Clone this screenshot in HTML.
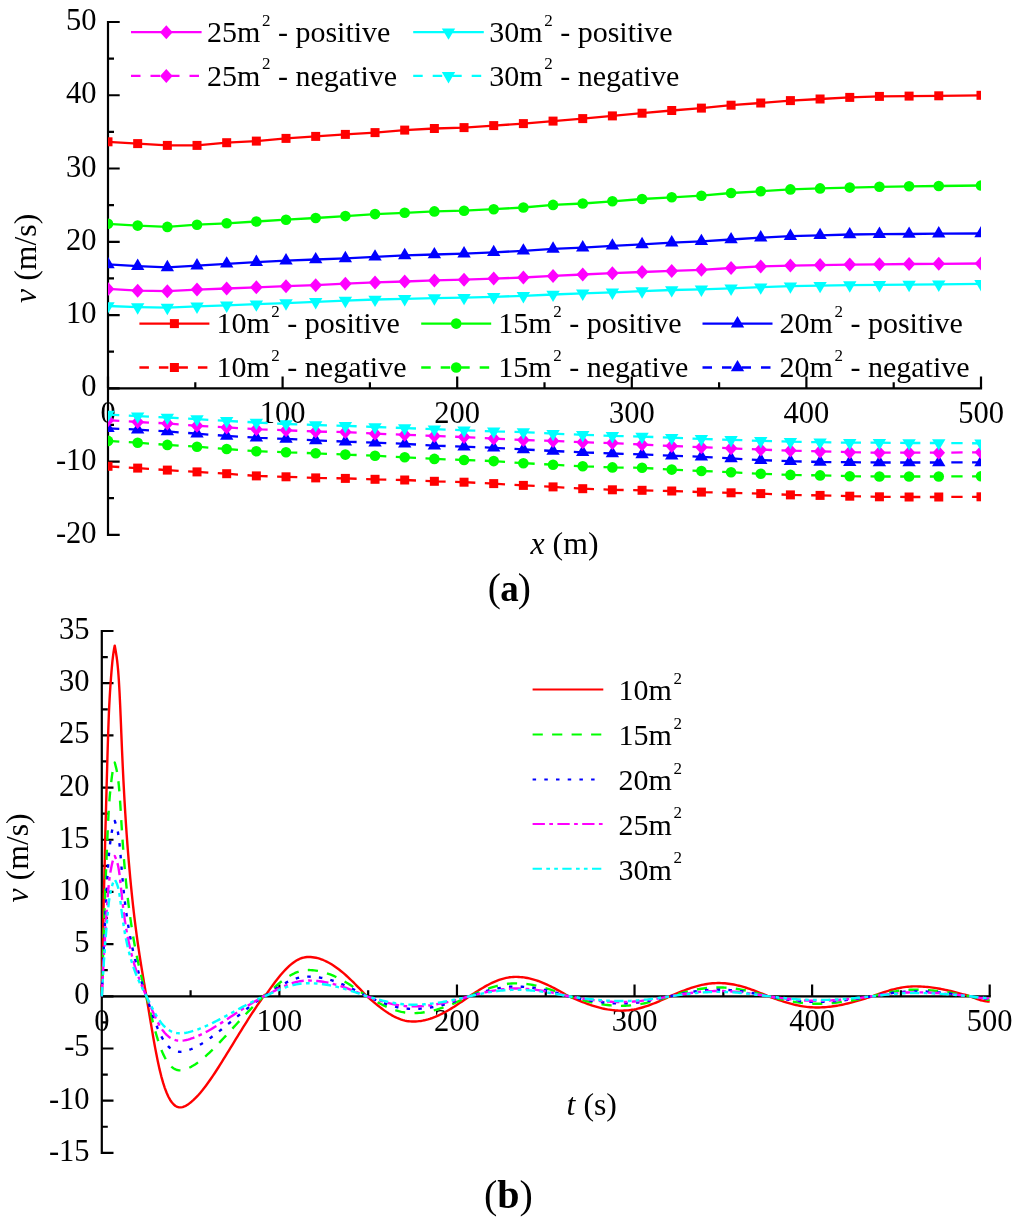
<!DOCTYPE html><html><head><meta charset="utf-8"><title>Velocity charts</title><style>html,body{margin:0;padding:0;background:#fff;width:1024px;height:1222px;overflow:hidden}svg{display:block;will-change:transform}</style></head><body><svg width="1024" height="1222" viewBox="0 0 1024 1222"><rect width="100%" height="100%" fill="#fff"/><defs><clipPath id="ca"><rect x="108" y="0" width="873" height="600"/></clipPath></defs><path d="M108 22V534.82M108 388.3H981" stroke="#000" stroke-width="2.2" fill="none" stroke-linecap="square"/><path d="M108 534.82h11.7M108 498.19h6M108 461.56h11.7M108 424.93h6M108 388.3h11.7M108 351.67h6M108 315.04h11.7M108 278.41h6M108 241.78h11.7M108 205.15h6M108 168.52h11.7M108 131.89h6M108 95.26h11.7M108 58.63h6M108 22h11.7M108 388.3v-11.7M195.3 388.3v-6M282.6 388.3v-11.7M369.9 388.3v-6M457.2 388.3v-11.7M544.5 388.3v-6M631.8 388.3v-11.7M719.1 388.3v-6M806.4 388.3v-11.7M893.7 388.3v-6M981 388.3v-11.7" stroke="#000" stroke-width="2.2" fill="none"/><g font-family='"Liberation Serif", serif' font-size="30.5" fill="#000"><text x="96.6" y="542.82" text-anchor="end">-20</text><text x="96.6" y="469.56" text-anchor="end">-10</text><text x="96.6" y="396.3" text-anchor="end">0</text><text x="96.6" y="323.04" text-anchor="end">10</text><text x="96.6" y="249.78" text-anchor="end">20</text><text x="96.6" y="176.52" text-anchor="end">30</text><text x="96.6" y="103.26" text-anchor="end">40</text><text x="96.6" y="30" text-anchor="end">50</text><text x="108" y="422.7" text-anchor="middle">0</text><text x="282.6" y="422.7" text-anchor="middle">100</text><text x="457.2" y="422.7" text-anchor="middle">200</text><text x="631.8" y="422.7" text-anchor="middle">300</text><text x="806.4" y="422.7" text-anchor="middle">400</text><text x="981" y="422.7" text-anchor="middle">500</text></g><g clip-path="url(#ca)"><path d="M108 141.8L137.67 143.6L167.34 145.4L197.01 145.4L226.68 142.7L256.35 141.1L286.02 138.4L315.69 136.4L345.36 134.4L375.03 132.6L404.7 130.1L434.37 128.5L464.04 127.6L493.71 125.6L523.38 123.6L553.05 121.1L582.72 118.6L612.39 115.9L642.06 113.2L671.73 110.5L701.4 108.1L731.07 105.2L760.74 103L790.41 100.6L820.08 99L849.75 97.4L879.42 96.4L909.09 96.1L938.76 95.8L981 95.3" fill="none" stroke="#ff0000" stroke-width="2.3" stroke-linejoin="round"/><rect x="103.5" y="137.3" width="9" height="9" fill="#ff0000"/><rect x="133.17" y="139.1" width="9" height="9" fill="#ff0000"/><rect x="162.84" y="140.9" width="9" height="9" fill="#ff0000"/><rect x="192.51" y="140.9" width="9" height="9" fill="#ff0000"/><rect x="222.18" y="138.2" width="9" height="9" fill="#ff0000"/><rect x="251.85" y="136.6" width="9" height="9" fill="#ff0000"/><rect x="281.52" y="133.9" width="9" height="9" fill="#ff0000"/><rect x="311.19" y="131.9" width="9" height="9" fill="#ff0000"/><rect x="340.86" y="129.9" width="9" height="9" fill="#ff0000"/><rect x="370.53" y="128.1" width="9" height="9" fill="#ff0000"/><rect x="400.2" y="125.6" width="9" height="9" fill="#ff0000"/><rect x="429.87" y="124" width="9" height="9" fill="#ff0000"/><rect x="459.54" y="123.1" width="9" height="9" fill="#ff0000"/><rect x="489.21" y="121.1" width="9" height="9" fill="#ff0000"/><rect x="518.88" y="119.1" width="9" height="9" fill="#ff0000"/><rect x="548.55" y="116.6" width="9" height="9" fill="#ff0000"/><rect x="578.22" y="114.1" width="9" height="9" fill="#ff0000"/><rect x="607.89" y="111.4" width="9" height="9" fill="#ff0000"/><rect x="637.56" y="108.7" width="9" height="9" fill="#ff0000"/><rect x="667.23" y="106" width="9" height="9" fill="#ff0000"/><rect x="696.9" y="103.6" width="9" height="9" fill="#ff0000"/><rect x="726.57" y="100.7" width="9" height="9" fill="#ff0000"/><rect x="756.24" y="98.5" width="9" height="9" fill="#ff0000"/><rect x="785.91" y="96.1" width="9" height="9" fill="#ff0000"/><rect x="815.58" y="94.5" width="9" height="9" fill="#ff0000"/><rect x="845.25" y="92.9" width="9" height="9" fill="#ff0000"/><rect x="874.92" y="91.9" width="9" height="9" fill="#ff0000"/><rect x="904.59" y="91.6" width="9" height="9" fill="#ff0000"/><rect x="934.26" y="91.3" width="9" height="9" fill="#ff0000"/><rect x="976.5" y="90.8" width="9" height="9" fill="#ff0000"/><path d="M108 223.8L137.67 225.6L167.34 226.9L197.01 224.7L226.68 223.3L256.35 221.5L286.02 219.7L315.69 218L345.36 216.1L375.03 214.1L404.7 212.8L434.37 211.4L464.04 210.7L493.71 209.2L523.38 207.5L553.05 204.9L582.72 203.5L612.39 201.3L642.06 199L671.73 197.3L701.4 195.7L731.07 193L760.74 191.3L790.41 189.4L820.08 188.4L849.75 187.6L879.42 186.8L909.09 186.3L938.76 186L981 185.5" fill="none" stroke="#00ff00" stroke-width="2.3" stroke-linejoin="round"/><circle cx="108" cy="223.8" r="5.3" fill="#00ff00"/><circle cx="137.67" cy="225.6" r="5.3" fill="#00ff00"/><circle cx="167.34" cy="226.9" r="5.3" fill="#00ff00"/><circle cx="197.01" cy="224.7" r="5.3" fill="#00ff00"/><circle cx="226.68" cy="223.3" r="5.3" fill="#00ff00"/><circle cx="256.35" cy="221.5" r="5.3" fill="#00ff00"/><circle cx="286.02" cy="219.7" r="5.3" fill="#00ff00"/><circle cx="315.69" cy="218" r="5.3" fill="#00ff00"/><circle cx="345.36" cy="216.1" r="5.3" fill="#00ff00"/><circle cx="375.03" cy="214.1" r="5.3" fill="#00ff00"/><circle cx="404.7" cy="212.8" r="5.3" fill="#00ff00"/><circle cx="434.37" cy="211.4" r="5.3" fill="#00ff00"/><circle cx="464.04" cy="210.7" r="5.3" fill="#00ff00"/><circle cx="493.71" cy="209.2" r="5.3" fill="#00ff00"/><circle cx="523.38" cy="207.5" r="5.3" fill="#00ff00"/><circle cx="553.05" cy="204.9" r="5.3" fill="#00ff00"/><circle cx="582.72" cy="203.5" r="5.3" fill="#00ff00"/><circle cx="612.39" cy="201.3" r="5.3" fill="#00ff00"/><circle cx="642.06" cy="199" r="5.3" fill="#00ff00"/><circle cx="671.73" cy="197.3" r="5.3" fill="#00ff00"/><circle cx="701.4" cy="195.7" r="5.3" fill="#00ff00"/><circle cx="731.07" cy="193" r="5.3" fill="#00ff00"/><circle cx="760.74" cy="191.3" r="5.3" fill="#00ff00"/><circle cx="790.41" cy="189.4" r="5.3" fill="#00ff00"/><circle cx="820.08" cy="188.4" r="5.3" fill="#00ff00"/><circle cx="849.75" cy="187.6" r="5.3" fill="#00ff00"/><circle cx="879.42" cy="186.8" r="5.3" fill="#00ff00"/><circle cx="909.09" cy="186.3" r="5.3" fill="#00ff00"/><circle cx="938.76" cy="186" r="5.3" fill="#00ff00"/><circle cx="981" cy="185.5" r="5.3" fill="#00ff00"/><path d="M108 264.4L137.67 266.2L167.34 267.4L197.01 265.6L226.68 263.8L256.35 262.2L286.02 260.6L315.69 259.5L345.36 258.4L375.03 256.8L404.7 255.4L434.37 254.5L464.04 253.6L493.71 252.3L523.38 250.8L553.05 248.9L582.72 247.6L612.39 245.8L642.06 244.4L671.73 242.6L701.4 241.3L731.07 239.5L760.74 237.7L790.41 236.1L820.08 235.3L849.75 234.5L879.42 234.2L909.09 234L938.76 233.7L981 233.5" fill="none" stroke="#0000ff" stroke-width="2.3" stroke-linejoin="round"/><path d="M108 256.8L114.7 268.2L101.3 268.2Z" fill="#0000ff"/><path d="M137.67 258.6L144.37 270L130.97 270Z" fill="#0000ff"/><path d="M167.34 259.8L174.04 271.2L160.64 271.2Z" fill="#0000ff"/><path d="M197.01 258L203.71 269.4L190.31 269.4Z" fill="#0000ff"/><path d="M226.68 256.2L233.38 267.6L219.98 267.6Z" fill="#0000ff"/><path d="M256.35 254.6L263.05 266L249.65 266Z" fill="#0000ff"/><path d="M286.02 253L292.72 264.4L279.32 264.4Z" fill="#0000ff"/><path d="M315.69 251.9L322.39 263.3L308.99 263.3Z" fill="#0000ff"/><path d="M345.36 250.8L352.06 262.2L338.66 262.2Z" fill="#0000ff"/><path d="M375.03 249.2L381.73 260.6L368.33 260.6Z" fill="#0000ff"/><path d="M404.7 247.8L411.4 259.2L398 259.2Z" fill="#0000ff"/><path d="M434.37 246.9L441.07 258.3L427.67 258.3Z" fill="#0000ff"/><path d="M464.04 246L470.74 257.4L457.34 257.4Z" fill="#0000ff"/><path d="M493.71 244.7L500.41 256.1L487.01 256.1Z" fill="#0000ff"/><path d="M523.38 243.2L530.08 254.6L516.68 254.6Z" fill="#0000ff"/><path d="M553.05 241.3L559.75 252.7L546.35 252.7Z" fill="#0000ff"/><path d="M582.72 240L589.42 251.4L576.02 251.4Z" fill="#0000ff"/><path d="M612.39 238.2L619.09 249.6L605.69 249.6Z" fill="#0000ff"/><path d="M642.06 236.8L648.76 248.2L635.36 248.2Z" fill="#0000ff"/><path d="M671.73 235L678.43 246.4L665.03 246.4Z" fill="#0000ff"/><path d="M701.4 233.7L708.1 245.1L694.7 245.1Z" fill="#0000ff"/><path d="M731.07 231.9L737.77 243.3L724.37 243.3Z" fill="#0000ff"/><path d="M760.74 230.1L767.44 241.5L754.04 241.5Z" fill="#0000ff"/><path d="M790.41 228.5L797.11 239.9L783.71 239.9Z" fill="#0000ff"/><path d="M820.08 227.7L826.78 239.1L813.38 239.1Z" fill="#0000ff"/><path d="M849.75 226.9L856.45 238.3L843.05 238.3Z" fill="#0000ff"/><path d="M879.42 226.6L886.12 238L872.72 238Z" fill="#0000ff"/><path d="M909.09 226.4L915.79 237.8L902.39 237.8Z" fill="#0000ff"/><path d="M938.76 226.1L945.46 237.5L932.06 237.5Z" fill="#0000ff"/><path d="M981 225.9L987.7 237.3L974.3 237.3Z" fill="#0000ff"/><path d="M108 288.9L137.67 290.7L167.34 291.2L197.01 289.6L226.68 288.5L256.35 287.3L286.02 286.2L315.69 285.2L345.36 283.7L375.03 282.4L404.7 281.5L434.37 280.4L464.04 279.7L493.71 278.6L523.38 277.5L553.05 275.9L582.72 274.5L612.39 273.2L642.06 272L671.73 270.9L701.4 269.8L731.07 268L760.74 266.4L790.41 265.6L820.08 265.1L849.75 264.6L879.42 264.3L909.09 264L938.76 263.8L981 263.5" fill="none" stroke="#ff00ff" stroke-width="2.3" stroke-linejoin="round"/><path d="M108 281.9L114.3 288.9L108 295.9L101.7 288.9Z" fill="#ff00ff"/><path d="M137.67 283.7L143.97 290.7L137.67 297.7L131.37 290.7Z" fill="#ff00ff"/><path d="M167.34 284.2L173.64 291.2L167.34 298.2L161.04 291.2Z" fill="#ff00ff"/><path d="M197.01 282.6L203.31 289.6L197.01 296.6L190.71 289.6Z" fill="#ff00ff"/><path d="M226.68 281.5L232.98 288.5L226.68 295.5L220.38 288.5Z" fill="#ff00ff"/><path d="M256.35 280.3L262.65 287.3L256.35 294.3L250.05 287.3Z" fill="#ff00ff"/><path d="M286.02 279.2L292.32 286.2L286.02 293.2L279.72 286.2Z" fill="#ff00ff"/><path d="M315.69 278.2L321.99 285.2L315.69 292.2L309.39 285.2Z" fill="#ff00ff"/><path d="M345.36 276.7L351.66 283.7L345.36 290.7L339.06 283.7Z" fill="#ff00ff"/><path d="M375.03 275.4L381.33 282.4L375.03 289.4L368.73 282.4Z" fill="#ff00ff"/><path d="M404.7 274.5L411 281.5L404.7 288.5L398.4 281.5Z" fill="#ff00ff"/><path d="M434.37 273.4L440.67 280.4L434.37 287.4L428.07 280.4Z" fill="#ff00ff"/><path d="M464.04 272.7L470.34 279.7L464.04 286.7L457.74 279.7Z" fill="#ff00ff"/><path d="M493.71 271.6L500.01 278.6L493.71 285.6L487.41 278.6Z" fill="#ff00ff"/><path d="M523.38 270.5L529.68 277.5L523.38 284.5L517.08 277.5Z" fill="#ff00ff"/><path d="M553.05 268.9L559.35 275.9L553.05 282.9L546.75 275.9Z" fill="#ff00ff"/><path d="M582.72 267.5L589.02 274.5L582.72 281.5L576.42 274.5Z" fill="#ff00ff"/><path d="M612.39 266.2L618.69 273.2L612.39 280.2L606.09 273.2Z" fill="#ff00ff"/><path d="M642.06 265L648.36 272L642.06 279L635.76 272Z" fill="#ff00ff"/><path d="M671.73 263.9L678.03 270.9L671.73 277.9L665.43 270.9Z" fill="#ff00ff"/><path d="M701.4 262.8L707.7 269.8L701.4 276.8L695.1 269.8Z" fill="#ff00ff"/><path d="M731.07 261L737.37 268L731.07 275L724.77 268Z" fill="#ff00ff"/><path d="M760.74 259.4L767.04 266.4L760.74 273.4L754.44 266.4Z" fill="#ff00ff"/><path d="M790.41 258.6L796.71 265.6L790.41 272.6L784.11 265.6Z" fill="#ff00ff"/><path d="M820.08 258.1L826.38 265.1L820.08 272.1L813.78 265.1Z" fill="#ff00ff"/><path d="M849.75 257.6L856.05 264.6L849.75 271.6L843.45 264.6Z" fill="#ff00ff"/><path d="M879.42 257.3L885.72 264.3L879.42 271.3L873.12 264.3Z" fill="#ff00ff"/><path d="M909.09 257L915.39 264L909.09 271L902.79 264Z" fill="#ff00ff"/><path d="M938.76 256.8L945.06 263.8L938.76 270.8L932.46 263.8Z" fill="#ff00ff"/><path d="M981 256.5L987.3 263.5L981 270.5L974.7 263.5Z" fill="#ff00ff"/><path d="M108 306L137.67 307.1L167.34 307.6L197.01 306.4L226.68 305.3L256.35 304.2L286.02 303.1L315.69 301.9L345.36 300.6L375.03 299.5L404.7 298.8L434.37 298.1L464.04 297.7L493.71 296.8L523.38 295.8L553.05 294.5L582.72 293.4L612.39 292.3L642.06 291.1L671.73 290L701.4 289.3L731.07 288.4L760.74 287.2L790.41 286.2L820.08 285.7L849.75 285.1L879.42 284.9L909.09 284.6L938.76 284.3L981 283.8" fill="none" stroke="#00ffff" stroke-width="2.3" stroke-linejoin="round"/><path d="M108 313.6L114.7 302.2L101.3 302.2Z" fill="#00ffff"/><path d="M137.67 314.7L144.37 303.3L130.97 303.3Z" fill="#00ffff"/><path d="M167.34 315.2L174.04 303.8L160.64 303.8Z" fill="#00ffff"/><path d="M197.01 314L203.71 302.6L190.31 302.6Z" fill="#00ffff"/><path d="M226.68 312.9L233.38 301.5L219.98 301.5Z" fill="#00ffff"/><path d="M256.35 311.8L263.05 300.4L249.65 300.4Z" fill="#00ffff"/><path d="M286.02 310.7L292.72 299.3L279.32 299.3Z" fill="#00ffff"/><path d="M315.69 309.5L322.39 298.1L308.99 298.1Z" fill="#00ffff"/><path d="M345.36 308.2L352.06 296.8L338.66 296.8Z" fill="#00ffff"/><path d="M375.03 307.1L381.73 295.7L368.33 295.7Z" fill="#00ffff"/><path d="M404.7 306.4L411.4 295L398 295Z" fill="#00ffff"/><path d="M434.37 305.7L441.07 294.3L427.67 294.3Z" fill="#00ffff"/><path d="M464.04 305.3L470.74 293.9L457.34 293.9Z" fill="#00ffff"/><path d="M493.71 304.4L500.41 293L487.01 293Z" fill="#00ffff"/><path d="M523.38 303.4L530.08 292L516.68 292Z" fill="#00ffff"/><path d="M553.05 302.1L559.75 290.7L546.35 290.7Z" fill="#00ffff"/><path d="M582.72 301L589.42 289.6L576.02 289.6Z" fill="#00ffff"/><path d="M612.39 299.9L619.09 288.5L605.69 288.5Z" fill="#00ffff"/><path d="M642.06 298.7L648.76 287.3L635.36 287.3Z" fill="#00ffff"/><path d="M671.73 297.6L678.43 286.2L665.03 286.2Z" fill="#00ffff"/><path d="M701.4 296.9L708.1 285.5L694.7 285.5Z" fill="#00ffff"/><path d="M731.07 296L737.77 284.6L724.37 284.6Z" fill="#00ffff"/><path d="M760.74 294.8L767.44 283.4L754.04 283.4Z" fill="#00ffff"/><path d="M790.41 293.8L797.11 282.4L783.71 282.4Z" fill="#00ffff"/><path d="M820.08 293.3L826.78 281.9L813.38 281.9Z" fill="#00ffff"/><path d="M849.75 292.7L856.45 281.3L843.05 281.3Z" fill="#00ffff"/><path d="M879.42 292.5L886.12 281.1L872.72 281.1Z" fill="#00ffff"/><path d="M909.09 292.2L915.79 280.8L902.39 280.8Z" fill="#00ffff"/><path d="M938.76 291.9L945.46 280.5L932.06 280.5Z" fill="#00ffff"/><path d="M981 291.4L987.7 280L974.3 280Z" fill="#00ffff"/><path d="M137.67 468.1L108 466.3M167.34 470.1L137.67 468.1M197.01 471.9L167.34 470.1M226.68 473.7L197.01 471.9M256.35 475.9L226.68 473.7M286.02 476.8L256.35 475.9M315.69 477.9L286.02 476.8M345.36 478.4L315.69 477.9M375.03 479.3L345.36 478.4M404.7 480L375.03 479.3M434.37 481.3L404.7 480M464.04 482.2L434.37 481.3M493.71 483.6L464.04 482.2M523.38 485.4L493.71 483.6M553.05 486.9L523.38 485.4M582.72 488.7L553.05 486.9M612.39 489.8L582.72 488.7M642.06 490.3L612.39 489.8M671.73 491L642.06 490.3M701.4 492.1L671.73 491M731.07 492.8L701.4 492.1M760.74 493.6L731.07 492.8M790.41 494.9L760.74 493.6M820.08 495.4L790.41 494.9M849.75 496.2L820.08 495.4M879.42 496.8L849.75 496.2M909.09 497L879.42 496.8M938.76 497L909.09 497M981 496.8L938.76 497" fill="none" stroke="#ff0000" stroke-width="2.3" stroke-dasharray="8.9 9.5 11.3 9.5"/><rect x="103.5" y="461.8" width="9" height="9" fill="#ff0000"/><rect x="133.17" y="463.6" width="9" height="9" fill="#ff0000"/><rect x="162.84" y="465.6" width="9" height="9" fill="#ff0000"/><rect x="192.51" y="467.4" width="9" height="9" fill="#ff0000"/><rect x="222.18" y="469.2" width="9" height="9" fill="#ff0000"/><rect x="251.85" y="471.4" width="9" height="9" fill="#ff0000"/><rect x="281.52" y="472.3" width="9" height="9" fill="#ff0000"/><rect x="311.19" y="473.4" width="9" height="9" fill="#ff0000"/><rect x="340.86" y="473.9" width="9" height="9" fill="#ff0000"/><rect x="370.53" y="474.8" width="9" height="9" fill="#ff0000"/><rect x="400.2" y="475.5" width="9" height="9" fill="#ff0000"/><rect x="429.87" y="476.8" width="9" height="9" fill="#ff0000"/><rect x="459.54" y="477.7" width="9" height="9" fill="#ff0000"/><rect x="489.21" y="479.1" width="9" height="9" fill="#ff0000"/><rect x="518.88" y="480.9" width="9" height="9" fill="#ff0000"/><rect x="548.55" y="482.4" width="9" height="9" fill="#ff0000"/><rect x="578.22" y="484.2" width="9" height="9" fill="#ff0000"/><rect x="607.89" y="485.3" width="9" height="9" fill="#ff0000"/><rect x="637.56" y="485.8" width="9" height="9" fill="#ff0000"/><rect x="667.23" y="486.5" width="9" height="9" fill="#ff0000"/><rect x="696.9" y="487.6" width="9" height="9" fill="#ff0000"/><rect x="726.57" y="488.3" width="9" height="9" fill="#ff0000"/><rect x="756.24" y="489.1" width="9" height="9" fill="#ff0000"/><rect x="785.91" y="490.4" width="9" height="9" fill="#ff0000"/><rect x="815.58" y="490.9" width="9" height="9" fill="#ff0000"/><rect x="845.25" y="491.7" width="9" height="9" fill="#ff0000"/><rect x="874.92" y="492.3" width="9" height="9" fill="#ff0000"/><rect x="904.59" y="492.5" width="9" height="9" fill="#ff0000"/><rect x="934.26" y="492.5" width="9" height="9" fill="#ff0000"/><rect x="976.5" y="492.3" width="9" height="9" fill="#ff0000"/><path d="M137.67 442.7L108 440.9M167.34 444.9L137.67 442.7M197.01 446.7L167.34 444.9M226.68 449L197.01 446.7M256.35 451.2L226.68 449M286.02 452.3L256.35 451.2M315.69 453.3L286.02 452.3M345.36 454.6L315.69 453.3M375.03 455.7L345.36 454.6M404.7 457.3L375.03 455.7M434.37 458.9L404.7 457.3M464.04 460L434.37 458.9M493.71 461.1L464.04 460M523.38 463.2L493.71 461.1M553.05 464.7L523.38 463.2M582.72 466.3L553.05 464.7M612.39 467.4L582.72 466.3M642.06 467.8L612.39 467.4M671.73 469.6L642.06 467.8M701.4 471L671.73 469.6M731.07 472.2L701.4 471M760.74 473.8L731.07 472.2M790.41 474.9L760.74 473.8M820.08 475.4L790.41 474.9M849.75 476.2L820.08 475.4M879.42 476.5L849.75 476.2M909.09 476.5L879.42 476.5M938.76 476.5L909.09 476.5M981 476.3L938.76 476.5" fill="none" stroke="#00ff00" stroke-width="2.3" stroke-dasharray="8.9 9.5 11.3 9.5"/><circle cx="108" cy="440.9" r="5.3" fill="#00ff00"/><circle cx="137.67" cy="442.7" r="5.3" fill="#00ff00"/><circle cx="167.34" cy="444.9" r="5.3" fill="#00ff00"/><circle cx="197.01" cy="446.7" r="5.3" fill="#00ff00"/><circle cx="226.68" cy="449" r="5.3" fill="#00ff00"/><circle cx="256.35" cy="451.2" r="5.3" fill="#00ff00"/><circle cx="286.02" cy="452.3" r="5.3" fill="#00ff00"/><circle cx="315.69" cy="453.3" r="5.3" fill="#00ff00"/><circle cx="345.36" cy="454.6" r="5.3" fill="#00ff00"/><circle cx="375.03" cy="455.7" r="5.3" fill="#00ff00"/><circle cx="404.7" cy="457.3" r="5.3" fill="#00ff00"/><circle cx="434.37" cy="458.9" r="5.3" fill="#00ff00"/><circle cx="464.04" cy="460" r="5.3" fill="#00ff00"/><circle cx="493.71" cy="461.1" r="5.3" fill="#00ff00"/><circle cx="523.38" cy="463.2" r="5.3" fill="#00ff00"/><circle cx="553.05" cy="464.7" r="5.3" fill="#00ff00"/><circle cx="582.72" cy="466.3" r="5.3" fill="#00ff00"/><circle cx="612.39" cy="467.4" r="5.3" fill="#00ff00"/><circle cx="642.06" cy="467.8" r="5.3" fill="#00ff00"/><circle cx="671.73" cy="469.6" r="5.3" fill="#00ff00"/><circle cx="701.4" cy="471" r="5.3" fill="#00ff00"/><circle cx="731.07" cy="472.2" r="5.3" fill="#00ff00"/><circle cx="760.74" cy="473.8" r="5.3" fill="#00ff00"/><circle cx="790.41" cy="474.9" r="5.3" fill="#00ff00"/><circle cx="820.08" cy="475.4" r="5.3" fill="#00ff00"/><circle cx="849.75" cy="476.2" r="5.3" fill="#00ff00"/><circle cx="879.42" cy="476.5" r="5.3" fill="#00ff00"/><circle cx="909.09" cy="476.5" r="5.3" fill="#00ff00"/><circle cx="938.76" cy="476.5" r="5.3" fill="#00ff00"/><circle cx="981" cy="476.3" r="5.3" fill="#00ff00"/><path d="M137.67 429.6L108 428.3M167.34 431.4L137.67 429.6M197.01 433.7L167.34 431.4M226.68 435.9L197.01 433.7M256.35 437.7L226.68 435.9M286.02 438.9L256.35 437.7M315.69 440.4L286.02 438.9M345.36 441.6L315.69 440.4M375.03 442.7L345.36 441.6M404.7 443.8L375.03 442.7M434.37 445.6L404.7 443.8M464.04 446.7L434.37 445.6M493.71 447.8L464.04 446.7M523.38 449.4L493.71 447.8M553.05 451L523.38 449.4M582.72 452.3L553.05 451M612.39 453.5L582.72 452.3M642.06 454.4L612.39 453.5M671.73 455.7L642.06 454.4M701.4 456.8L671.73 455.7M731.07 458.4L701.4 456.8M760.74 460.1L731.07 458.4M790.41 461.2L760.74 460.1M820.08 462L790.41 461.2M849.75 462.2L820.08 462M879.42 462.5L849.75 462.2M909.09 462.5L879.42 462.5M938.76 462.5L909.09 462.5M981 462.4L938.76 462.5" fill="none" stroke="#0000ff" stroke-width="2.3" stroke-dasharray="8.9 9.5 11.3 9.5"/><path d="M108 420.7L114.7 432.1L101.3 432.1Z" fill="#0000ff"/><path d="M137.67 422L144.37 433.4L130.97 433.4Z" fill="#0000ff"/><path d="M167.34 423.8L174.04 435.2L160.64 435.2Z" fill="#0000ff"/><path d="M197.01 426.1L203.71 437.5L190.31 437.5Z" fill="#0000ff"/><path d="M226.68 428.3L233.38 439.7L219.98 439.7Z" fill="#0000ff"/><path d="M256.35 430.1L263.05 441.5L249.65 441.5Z" fill="#0000ff"/><path d="M286.02 431.3L292.72 442.7L279.32 442.7Z" fill="#0000ff"/><path d="M315.69 432.8L322.39 444.2L308.99 444.2Z" fill="#0000ff"/><path d="M345.36 434L352.06 445.4L338.66 445.4Z" fill="#0000ff"/><path d="M375.03 435.1L381.73 446.5L368.33 446.5Z" fill="#0000ff"/><path d="M404.7 436.2L411.4 447.6L398 447.6Z" fill="#0000ff"/><path d="M434.37 438L441.07 449.4L427.67 449.4Z" fill="#0000ff"/><path d="M464.04 439.1L470.74 450.5L457.34 450.5Z" fill="#0000ff"/><path d="M493.71 440.2L500.41 451.6L487.01 451.6Z" fill="#0000ff"/><path d="M523.38 441.8L530.08 453.2L516.68 453.2Z" fill="#0000ff"/><path d="M553.05 443.4L559.75 454.8L546.35 454.8Z" fill="#0000ff"/><path d="M582.72 444.7L589.42 456.1L576.02 456.1Z" fill="#0000ff"/><path d="M612.39 445.9L619.09 457.3L605.69 457.3Z" fill="#0000ff"/><path d="M642.06 446.8L648.76 458.2L635.36 458.2Z" fill="#0000ff"/><path d="M671.73 448.1L678.43 459.5L665.03 459.5Z" fill="#0000ff"/><path d="M701.4 449.2L708.1 460.6L694.7 460.6Z" fill="#0000ff"/><path d="M731.07 450.8L737.77 462.2L724.37 462.2Z" fill="#0000ff"/><path d="M760.74 452.5L767.44 463.9L754.04 463.9Z" fill="#0000ff"/><path d="M790.41 453.6L797.11 465L783.71 465Z" fill="#0000ff"/><path d="M820.08 454.4L826.78 465.8L813.38 465.8Z" fill="#0000ff"/><path d="M849.75 454.6L856.45 466L843.05 466Z" fill="#0000ff"/><path d="M879.42 454.9L886.12 466.3L872.72 466.3Z" fill="#0000ff"/><path d="M909.09 454.9L915.79 466.3L902.39 466.3Z" fill="#0000ff"/><path d="M938.76 454.9L945.46 466.3L932.06 466.3Z" fill="#0000ff"/><path d="M981 454.8L987.7 466.2L974.3 466.2Z" fill="#0000ff"/><path d="M137.67 422L108 420.2M167.34 423.4L137.67 422M197.01 425.8L167.34 423.4M226.68 427.4L197.01 425.8M256.35 429.2L226.68 427.4M286.02 430.3L256.35 429.2M315.69 431.5L286.02 430.3M345.36 432.1L315.69 431.5M375.03 433.7L345.36 432.1M404.7 434.8L375.03 433.7M434.37 435.9L404.7 434.8M464.04 437.1L434.37 435.9M493.71 438.6L464.04 437.1M523.38 440L493.71 438.6M553.05 440.9L523.38 440M582.72 442.2L553.05 440.9M612.39 443.1L582.72 442.2M642.06 444.5L612.39 443.1M671.73 446L642.06 444.5M701.4 447.2L671.73 446M731.07 448.3L701.4 447.2M760.74 449.6L731.07 448.3M790.41 450.6L760.74 449.6M820.08 451.4L790.41 450.6M849.75 452.2L820.08 451.4M879.42 452.7L849.75 452.2M909.09 452.7L879.42 452.7M938.76 452.7L909.09 452.7M981 452.3L938.76 452.7" fill="none" stroke="#ff00ff" stroke-width="2.3" stroke-dasharray="8.9 9.5 11.3 9.5"/><path d="M108 413.2L114.3 420.2L108 427.2L101.7 420.2Z" fill="#ff00ff"/><path d="M137.67 415L143.97 422L137.67 429L131.37 422Z" fill="#ff00ff"/><path d="M167.34 416.4L173.64 423.4L167.34 430.4L161.04 423.4Z" fill="#ff00ff"/><path d="M197.01 418.8L203.31 425.8L197.01 432.8L190.71 425.8Z" fill="#ff00ff"/><path d="M226.68 420.4L232.98 427.4L226.68 434.4L220.38 427.4Z" fill="#ff00ff"/><path d="M256.35 422.2L262.65 429.2L256.35 436.2L250.05 429.2Z" fill="#ff00ff"/><path d="M286.02 423.3L292.32 430.3L286.02 437.3L279.72 430.3Z" fill="#ff00ff"/><path d="M315.69 424.5L321.99 431.5L315.69 438.5L309.39 431.5Z" fill="#ff00ff"/><path d="M345.36 425.1L351.66 432.1L345.36 439.1L339.06 432.1Z" fill="#ff00ff"/><path d="M375.03 426.7L381.33 433.7L375.03 440.7L368.73 433.7Z" fill="#ff00ff"/><path d="M404.7 427.8L411 434.8L404.7 441.8L398.4 434.8Z" fill="#ff00ff"/><path d="M434.37 428.9L440.67 435.9L434.37 442.9L428.07 435.9Z" fill="#ff00ff"/><path d="M464.04 430.1L470.34 437.1L464.04 444.1L457.74 437.1Z" fill="#ff00ff"/><path d="M493.71 431.6L500.01 438.6L493.71 445.6L487.41 438.6Z" fill="#ff00ff"/><path d="M523.38 433L529.68 440L523.38 447L517.08 440Z" fill="#ff00ff"/><path d="M553.05 433.9L559.35 440.9L553.05 447.9L546.75 440.9Z" fill="#ff00ff"/><path d="M582.72 435.2L589.02 442.2L582.72 449.2L576.42 442.2Z" fill="#ff00ff"/><path d="M612.39 436.1L618.69 443.1L612.39 450.1L606.09 443.1Z" fill="#ff00ff"/><path d="M642.06 437.5L648.36 444.5L642.06 451.5L635.76 444.5Z" fill="#ff00ff"/><path d="M671.73 439L678.03 446L671.73 453L665.43 446Z" fill="#ff00ff"/><path d="M701.4 440.2L707.7 447.2L701.4 454.2L695.1 447.2Z" fill="#ff00ff"/><path d="M731.07 441.3L737.37 448.3L731.07 455.3L724.77 448.3Z" fill="#ff00ff"/><path d="M760.74 442.6L767.04 449.6L760.74 456.6L754.44 449.6Z" fill="#ff00ff"/><path d="M790.41 443.6L796.71 450.6L790.41 457.6L784.11 450.6Z" fill="#ff00ff"/><path d="M820.08 444.4L826.38 451.4L820.08 458.4L813.78 451.4Z" fill="#ff00ff"/><path d="M849.75 445.2L856.05 452.2L849.75 459.2L843.45 452.2Z" fill="#ff00ff"/><path d="M879.42 445.7L885.72 452.7L879.42 459.7L873.12 452.7Z" fill="#ff00ff"/><path d="M909.09 445.7L915.39 452.7L909.09 459.7L902.79 452.7Z" fill="#ff00ff"/><path d="M938.76 445.7L945.06 452.7L938.76 459.7L932.46 452.7Z" fill="#ff00ff"/><path d="M981 445.3L987.3 452.3L981 459.3L974.7 452.3Z" fill="#ff00ff"/><path d="M137.67 416.2L108 414.6M167.34 417.5L137.67 416.2M197.01 419.1L167.34 417.5M226.68 420.9L197.01 419.1M256.35 422.5L226.68 420.9M286.02 424L256.35 422.5M315.69 425L286.02 424M345.36 425.8L315.69 425M375.03 427L345.36 425.8M404.7 428.1L375.03 427M434.37 429.2L404.7 428.1M464.04 430.3L434.37 429.2M493.71 431.4L464.04 430.3M523.38 432.1L493.71 431.4M553.05 433.7L523.38 432.1M582.72 434.8L553.05 433.7M612.39 435.9L582.72 434.8M642.06 436.6L612.39 435.9M671.73 437.7L642.06 436.6M701.4 438.9L671.73 437.7M731.07 439.8L701.4 438.9M760.74 440.9L731.07 439.8M790.41 441.7L760.74 440.9M820.08 442.2L790.41 441.7M849.75 442.7L820.08 442.2M879.42 442.7L849.75 442.7M909.09 443L879.42 442.7M938.76 443L909.09 443M981 443.3L938.76 443" fill="none" stroke="#00ffff" stroke-width="2.3" stroke-dasharray="8.9 9.5 11.3 9.5"/><path d="M108 422.2L114.7 410.8L101.3 410.8Z" fill="#00ffff"/><path d="M137.67 423.8L144.37 412.4L130.97 412.4Z" fill="#00ffff"/><path d="M167.34 425.1L174.04 413.7L160.64 413.7Z" fill="#00ffff"/><path d="M197.01 426.7L203.71 415.3L190.31 415.3Z" fill="#00ffff"/><path d="M226.68 428.5L233.38 417.1L219.98 417.1Z" fill="#00ffff"/><path d="M256.35 430.1L263.05 418.7L249.65 418.7Z" fill="#00ffff"/><path d="M286.02 431.6L292.72 420.2L279.32 420.2Z" fill="#00ffff"/><path d="M315.69 432.6L322.39 421.2L308.99 421.2Z" fill="#00ffff"/><path d="M345.36 433.4L352.06 422L338.66 422Z" fill="#00ffff"/><path d="M375.03 434.6L381.73 423.2L368.33 423.2Z" fill="#00ffff"/><path d="M404.7 435.7L411.4 424.3L398 424.3Z" fill="#00ffff"/><path d="M434.37 436.8L441.07 425.4L427.67 425.4Z" fill="#00ffff"/><path d="M464.04 437.9L470.74 426.5L457.34 426.5Z" fill="#00ffff"/><path d="M493.71 439L500.41 427.6L487.01 427.6Z" fill="#00ffff"/><path d="M523.38 439.7L530.08 428.3L516.68 428.3Z" fill="#00ffff"/><path d="M553.05 441.3L559.75 429.9L546.35 429.9Z" fill="#00ffff"/><path d="M582.72 442.4L589.42 431L576.02 431Z" fill="#00ffff"/><path d="M612.39 443.5L619.09 432.1L605.69 432.1Z" fill="#00ffff"/><path d="M642.06 444.2L648.76 432.8L635.36 432.8Z" fill="#00ffff"/><path d="M671.73 445.3L678.43 433.9L665.03 433.9Z" fill="#00ffff"/><path d="M701.4 446.5L708.1 435.1L694.7 435.1Z" fill="#00ffff"/><path d="M731.07 447.4L737.77 436L724.37 436Z" fill="#00ffff"/><path d="M760.74 448.5L767.44 437.1L754.04 437.1Z" fill="#00ffff"/><path d="M790.41 449.3L797.11 437.9L783.71 437.9Z" fill="#00ffff"/><path d="M820.08 449.8L826.78 438.4L813.38 438.4Z" fill="#00ffff"/><path d="M849.75 450.3L856.45 438.9L843.05 438.9Z" fill="#00ffff"/><path d="M879.42 450.3L886.12 438.9L872.72 438.9Z" fill="#00ffff"/><path d="M909.09 450.6L915.79 439.2L902.39 439.2Z" fill="#00ffff"/><path d="M938.76 450.6L945.46 439.2L932.06 439.2Z" fill="#00ffff"/><path d="M981 450.9L987.7 439.5L974.3 439.5Z" fill="#00ffff"/></g><path d="M101.8 631V1152.86M101.8 996.3H989.7" stroke="#000" stroke-width="2.2" fill="none" stroke-linecap="square"/><path d="M101.8 1152.86h11.7M101.8 1126.76h6M101.8 1100.67h11.7M101.8 1074.58h6M101.8 1048.48h11.7M101.8 1022.39h6M101.8 996.3h11.7M101.8 970.21h6M101.8 944.12h11.7M101.8 918.02h6M101.8 891.93h11.7M101.8 865.84h6M101.8 839.75h11.7M101.8 813.65h6M101.8 787.56h11.7M101.8 761.47h6M101.8 735.38h11.7M101.8 709.28h6M101.8 683.19h11.7M101.8 657.1h6M101.8 631h11.7M101.8 996.3v-11.7M190.59 996.3v-6M279.38 996.3v-11.7M368.17 996.3v-6M456.96 996.3v-11.7M545.75 996.3v-6M634.54 996.3v-11.7M723.33 996.3v-6M812.12 996.3v-11.7M900.91 996.3v-6M989.7 996.3v-11.7" stroke="#000" stroke-width="2.2" fill="none"/><g font-family='"Liberation Serif", serif' font-size="30.5" fill="#000"><text x="89.6" y="1160.86" text-anchor="end">-15</text><text x="89.6" y="1108.67" text-anchor="end">-10</text><text x="89.6" y="1056.48" text-anchor="end">-5</text><text x="89.6" y="1004.3" text-anchor="end">0</text><text x="89.6" y="952.12" text-anchor="end">5</text><text x="89.6" y="899.93" text-anchor="end">10</text><text x="89.6" y="847.75" text-anchor="end">15</text><text x="89.6" y="795.56" text-anchor="end">20</text><text x="89.6" y="743.38" text-anchor="end">25</text><text x="89.6" y="691.19" text-anchor="end">30</text><text x="89.6" y="639" text-anchor="end">35</text><text x="101.8" y="1031.2" text-anchor="middle">0</text><text x="279.38" y="1031.2" text-anchor="middle">100</text><text x="456.96" y="1031.2" text-anchor="middle">200</text><text x="634.54" y="1031.2" text-anchor="middle">300</text><text x="812.12" y="1031.2" text-anchor="middle">400</text><text x="989.7" y="1031.2" text-anchor="middle">500</text></g><path d="M101.8 996.3L101.98 987.6L102.16 978.9L102.33 970.21L102.51 961.51L102.69 952.81L102.87 944.12L103.04 935.24L103.22 926.14L103.4 917.04L103.58 908.16L103.75 899.72L103.93 891.93L104.11 885.11L104.29 878.94L104.46 872.75L104.64 865.84L104.82 857.4L105 848.18L105.17 839.75L105.35 832.67L105.53 826.21L105.71 819.99L105.88 813.65L106.06 807.1L106.24 800.52L106.42 793.98L106.59 787.56L106.77 781.17L106.95 774.74L107.13 768.31L107.3 761.94L107.48 755.67L107.66 749.57L107.84 743.69L108.02 738.07L108.19 732.73L108.37 727.52L108.55 722.49L108.73 717.72L108.9 713.29L109.08 709.28L109.26 705.62L109.44 702.15L109.61 698.86L109.79 695.74L109.97 692.78L110.15 689.95L110.32 687.26L110.5 684.68L110.68 682.21L110.86 679.79L111.03 677.42L111.21 675.1L111.39 672.84L111.57 670.66L111.74 668.55L111.92 666.52L112.1 664.57L112.28 662.73L112.45 660.98L112.63 659.34L112.81 657.82L112.99 656.4L113.17 655.04L113.34 653.72L113.52 652.46L113.7 651.26L113.88 650.12L114.05 649.06L114.23 648.07L114.41 647.16L114.59 646.34L114.76 645.62L114.94 646.66L115.3 648.72L115.65 650.76L116.01 652.86L116.36 655.09L116.72 657.52L117.07 660.22L117.43 663.28L117.78 666.75L118.14 670.71L118.49 675.23L118.85 680.39L119.2 686.24L119.56 692.77L119.91 699.94L120.27 707.71L120.62 716.06L120.98 724.8L121.33 733.66L121.69 742.33L122.04 750.68L122.4 758.71L122.75 766.43L123.11 773.85L123.46 780.99L123.82 787.85L124.18 794.45L124.53 800.8L124.89 806.91L125.24 812.79L125.6 818.45L125.95 823.91L126.31 829.17L126.66 834.25L127.02 839.16L127.37 843.91L127.73 848.52L128.08 852.99L128.44 857.33L128.79 861.56L129.15 865.68L129.5 869.72L129.86 873.67L130.21 877.53L130.57 881.31L130.92 885L131.28 888.62L131.63 892.15L131.99 895.62L132.34 899L132.7 902.32L133.05 905.56L133.41 908.74L133.76 911.85L134.12 914.9L134.47 917.89L134.83 920.82L135.19 923.69L135.54 926.5L135.9 929.26L136.25 931.97L136.61 934.63L136.96 937.25L137.32 939.82L137.67 942.34L138.03 944.82L138.38 947.27L138.74 949.68L139.09 952.05L139.45 954.39L139.8 956.7L140.16 958.98L140.51 961.23L140.87 963.46L141.22 965.66L141.58 967.85L141.93 970.01L142.29 972.16L142.64 974.3L143 976.42L143.35 978.53L143.71 980.63L144.06 982.73L144.42 984.82L144.77 986.92L145.13 989.01L145.48 991.1L145.84 993.19L146.19 995.3L146.55 997.41L146.91 999.52L147.26 1001.65L147.62 1003.78L147.97 1005.91L148.33 1008.04L148.68 1010.18L149.04 1012.31L149.39 1014.45L149.75 1016.58L150.1 1018.71L150.46 1020.83L150.81 1022.95L151.17 1025.05L151.52 1027.15L151.88 1029.24L152.23 1031.32L152.59 1033.38L152.94 1035.43L153.3 1037.46L153.65 1039.48L154.01 1041.48L154.36 1043.45L154.72 1045.41L155.07 1047.35L155.96 1052.08L157.74 1061.02L159.52 1069.14L161.29 1076.33L163.07 1082.64L164.85 1088.11L166.63 1092.78L168.41 1096.72L170.18 1099.95L171.96 1102.54L173.74 1104.52L175.52 1105.96L177.29 1106.88L179.07 1107.35L180.85 1107.4L182.63 1107.09L184.4 1106.46L186.18 1105.57L187.96 1104.45L189.74 1103.15L191.52 1101.72L193.29 1100.15L195.07 1098.45L196.85 1096.64L198.63 1094.71L200.4 1092.67L202.18 1090.53L203.96 1088.29L205.74 1085.97L207.52 1083.56L209.29 1081.07L211.07 1078.52L212.85 1075.9L214.63 1073.23L216.4 1070.51L218.18 1067.74L219.96 1064.94L221.74 1062.1L223.51 1059.24L225.29 1056.36L227.07 1053.47L228.85 1050.57L230.63 1047.67L232.4 1044.76L234.18 1041.86L235.96 1038.95L237.74 1036.06L239.51 1033.17L241.29 1030.3L243.07 1027.44L244.85 1024.6L246.62 1021.77L248.4 1018.97L250.18 1016.2L251.96 1013.45L253.74 1010.73L255.51 1008.04L257.29 1005.39L259.07 1002.78L260.85 1000.21L262.62 997.68L264.4 995.2L266.18 994.35L267.96 991.83L269.73 989.35L271.51 986.89L273.29 984.45L275.07 982.07L276.85 979.75L278.62 977.49L280.4 975.31L282.18 973.23L283.96 971.22L285.73 969.32L287.51 967.56L289.29 965.88L291.07 964.34L292.84 962.95L294.62 961.66L296.4 960.52L298.18 959.58L299.96 958.72L301.73 958.02L303.51 957.58L305.29 957.24L307.07 957.01L308.84 956.96L310.62 957.05L312.4 957.24L314.18 957.48L315.95 957.76L317.73 958.15L319.51 958.69L321.29 959.31L323.07 959.98L324.84 960.73L326.62 961.58L328.4 962.52L330.18 963.51L331.95 964.57L333.73 965.72L335.51 966.95L337.29 968.23L339.06 969.56L340.84 970.97L342.62 972.44L344.4 973.96L346.18 975.52L347.95 977.14L349.73 978.8L351.51 980.5L353.29 982.23L355.06 983.99L356.84 985.79L358.62 987.61L360.4 989.45L362.17 991.36L363.95 993.28L365.73 995.13L367.51 996.84L369.29 998.4L371.06 999.89L372.84 1001.37L374.62 1002.86L376.4 1004.33L378.17 1005.77L379.95 1007.17L381.73 1008.53L383.51 1009.85L385.28 1011.11L387.06 1012.33L388.84 1013.49L390.62 1014.57L392.4 1015.6L394.17 1016.56L395.95 1017.43L397.73 1018.23L399.51 1018.96L401.28 1019.59L403.06 1020.14L404.84 1020.62L406.62 1020.99L408.39 1021.22L410.17 1021.42L411.95 1021.54L413.73 1021.55L415.51 1021.47L417.28 1021.34L419.06 1021.17L420.84 1020.97L422.62 1020.67L424.39 1020.29L426.17 1019.85L427.95 1019.39L429.73 1018.86L431.5 1018.26L433.28 1017.61L435.06 1016.92L436.84 1016.18L438.62 1015.37L440.39 1014.53L442.17 1013.65L443.95 1012.72L445.73 1011.75L447.5 1010.74L449.28 1009.71L451.06 1008.63L452.84 1007.52L454.61 1006.39L456.39 1005.24L458.17 1004.06L459.95 1002.86L461.73 1001.64L463.5 1000.42L465.28 999.16L467.06 997.91L468.84 996.68L470.61 995.48L472.39 994.32L474.17 993.18L475.95 992.04L477.72 990.91L479.5 989.8L481.28 988.72L483.06 987.66L484.84 986.63L486.61 985.64L488.39 984.69L490.17 983.77L491.95 982.9L493.72 982.09L495.5 981.32L497.28 980.6L499.06 979.95L500.83 979.35L502.61 978.8L504.39 978.34L506.17 977.93L507.95 977.57L509.72 977.3L511.5 977.13L513.28 976.99L515.06 976.9L516.83 976.9L518.61 976.97L520.39 977.09L522.17 977.23L523.94 977.42L525.72 977.7L527.5 978.04L529.28 978.4L531.06 978.82L532.83 979.3L534.61 979.82L536.39 980.38L538.17 980.99L539.94 981.65L541.72 982.35L543.5 983.07L545.28 983.85L547.05 984.66L548.83 985.49L550.61 986.36L552.39 987.26L554.17 988.18L555.94 989.12L557.72 990.09L559.5 991.07L561.28 992.07L563.05 993.08L564.83 994.15L566.61 995.2L568.39 996.17L570.16 997L571.94 997.75L573.72 998.47L575.5 999.19L577.28 999.93L579.05 1000.66L580.83 1001.37L582.61 1002.07L584.39 1002.75L586.16 1003.42L587.94 1004.07L589.72 1004.69L591.5 1005.29L593.27 1005.87L595.05 1006.42L596.83 1006.94L598.61 1007.43L600.39 1007.89L602.16 1008.31L603.94 1008.71L605.72 1009.07L607.5 1009.4L609.27 1009.67L611.05 1009.93L612.83 1010.15L614.61 1010.31L616.38 1010.42L618.16 1010.52L619.94 1010.58L621.72 1010.6L623.5 1010.56L625.27 1010.47L627.05 1010.35L628.83 1010.21L630.61 1009.98L632.38 1009.7L634.16 1009.41L635.94 1009.06L637.72 1008.66L639.49 1008.23L641.27 1007.76L643.05 1007.25L644.83 1006.7L646.61 1006.12L648.38 1005.51L650.16 1004.86L651.94 1004.19L653.72 1003.5L655.49 1002.78L657.27 1002.03L659.05 1001.28L660.83 1000.5L662.6 999.7L664.38 998.91L666.16 998.09L667.94 997.26L669.72 996.45L671.49 995.67L673.27 994.91L675.05 994.15L676.83 993.41L678.6 992.66L680.38 991.93L682.16 991.22L683.94 990.52L685.71 989.84L687.49 989.18L689.27 988.55L691.05 987.94L692.83 987.35L694.6 986.81L696.38 986.29L698.16 985.8L699.94 985.35L701.71 984.94L703.49 984.56L705.27 984.22L707.05 983.94L708.82 983.67L710.6 983.45L712.38 983.3L714.16 983.19L715.94 983.1L717.71 983.05L719.49 983.06L721.27 983.11L723.05 983.21L724.82 983.31L726.6 983.47L728.38 983.69L730.16 983.95L731.93 984.22L733.71 984.55L735.49 984.92L737.27 985.31L739.05 985.74L740.82 986.2L742.6 986.7L744.38 987.22L746.16 987.77L747.93 988.35L749.71 988.95L751.49 989.58L753.27 990.23L755.04 990.9L756.82 991.58L758.6 992.27L760.38 992.99L762.16 993.71L763.93 994.44L765.71 995.19L767.49 995.93L769.27 996.62L771.04 997.27L772.82 997.9L774.6 998.52L776.38 999.15L778.15 999.77L779.93 1000.38L781.71 1000.97L783.49 1001.55L785.27 1002.11L787.04 1002.65L788.82 1003.17L790.6 1003.67L792.38 1004.14L794.15 1004.59L795.93 1005.01L797.71 1005.4L799.49 1005.75L801.26 1006.08L803.04 1006.38L804.82 1006.64L806.6 1006.87L808.38 1007.07L810.15 1007.22L811.93 1007.32L813.71 1007.4L815.49 1007.45L817.26 1007.47L819.04 1007.44L820.82 1007.38L822.6 1007.3L824.37 1007.22L826.15 1007.09L827.93 1006.92L829.71 1006.72L831.49 1006.52L833.26 1006.28L835.04 1006.01L836.82 1005.71L838.6 1005.41L840.37 1005.07L842.15 1004.71L843.93 1004.33L845.71 1003.93L847.48 1003.51L849.26 1003.07L851.04 1002.62L852.82 1002.15L854.6 1001.66L856.37 1001.16L858.15 1000.65L859.93 1000.13L861.71 999.6L863.48 999.06L865.26 998.51L867.04 997.97L868.82 997.42L870.59 996.87L872.37 996.28L874.15 995.65L875.93 995L877.71 994.35L879.48 993.72L881.26 993.1L883.04 992.5L884.82 991.91L886.59 991.34L888.37 990.79L890.15 990.27L891.93 989.76L893.7 989.29L895.48 988.85L897.26 988.44L899.04 988.06L900.82 987.72L902.59 987.41L904.37 987.15L906.15 986.92L907.93 986.72L909.7 986.58L911.48 986.49L913.26 986.42L915.04 986.38L916.81 986.4L918.59 986.45L920.37 986.51L922.15 986.58L923.93 986.69L925.7 986.83L927.48 987L929.26 987.18L931.04 987.39L932.81 987.62L934.59 987.88L936.37 988.15L938.15 988.45L939.92 988.77L941.7 989.11L943.48 989.46L945.26 989.83L947.04 990.22L948.81 990.63L950.59 991.04L952.37 991.48L954.15 991.92L955.92 992.38L957.7 992.85L959.48 993.32L961.26 993.81L963.03 994.3L964.81 994.77L966.59 995.24L968.37 995.73L970.15 996.29L971.92 997.03L973.7 997.76L975.48 998.46L977.26 999.12L979.03 999.71L980.81 1000.24L982.59 1000.69L984.37 1001.05L986.14 1001.31L987.92 1001.46L989.7 1001.52" fill="none" stroke="#ff0000" stroke-width="2.4" stroke-linejoin="round"/><path d="M101.8 996.3L101.98 990.5L102.16 984.7L102.33 978.9L102.51 973.11L102.69 967.31L102.87 961.51L103.04 955.59L103.22 949.52L103.4 943.46L103.58 937.54L103.75 931.91L103.93 926.72L104.11 922.17L104.29 918.06L104.46 913.93L104.64 909.32L104.82 903.7L105 897.55L105.17 891.93L105.35 887.21L105.53 882.9L105.71 878.76L105.88 874.53L106.06 870.16L106.24 865.78L106.42 861.42L106.59 857.14L106.77 852.88L106.95 848.59L107.13 844.3L107.3 840.06L107.48 835.88L107.66 831.82L107.84 827.89L108.02 824.15L108.19 820.59L108.37 817.12L108.55 813.76L108.73 810.58L108.9 807.62L109.08 804.95L109.26 802.51L109.44 800.2L109.61 798.01L109.79 795.93L109.97 793.95L110.15 792.07L110.32 790.27L110.5 788.56L110.68 786.91L110.86 785.29L111.03 783.71L111.21 782.17L111.39 780.66L111.57 779.21L111.74 777.8L111.92 776.44L112.1 775.15L112.28 773.92L112.45 772.75L112.63 771.66L112.81 770.64L112.99 769.7L113.17 768.79L113.34 767.91L113.52 767.07L113.7 766.27L113.88 765.52L114.05 764.8L114.23 764.15L114.41 763.54L114.59 762.99L114.76 762.51L114.94 763.2L115.3 764.58L115.65 765.94L116.01 767.34L116.36 768.83L116.72 770.45L117.07 772.25L117.43 774.28L117.78 776.6L118.14 779.24L118.49 782.26L118.85 785.7L119.2 789.6L119.56 793.95L119.91 798.72L120.27 803.91L120.62 809.47L120.98 815.3L121.33 821.21L121.69 826.99L122.04 832.55L122.4 837.91L122.75 843.05L123.11 848L123.46 852.76L123.82 857.33L124.18 861.73L124.53 865.97L124.89 870.04L125.24 873.96L125.6 877.73L125.95 881.37L126.31 884.88L126.66 888.27L127.02 891.54L127.37 894.71L127.73 897.78L128.08 900.76L128.44 903.65L128.79 906.47L129.15 909.22L129.5 911.91L129.86 914.55L130.21 917.12L130.57 919.64L130.92 922.1L131.28 924.51L131.63 926.87L131.99 929.18L132.34 931.44L132.7 933.65L133.05 935.81L133.41 937.93L133.76 940L134.12 942.04L134.47 944.03L134.83 945.98L135.19 947.89L135.54 949.77L135.9 951.61L136.25 953.42L136.61 955.19L136.96 956.93L137.32 958.64L137.67 960.33L138.03 961.98L138.38 963.61L138.74 965.22L139.09 966.8L139.45 968.36L139.8 969.9L140.16 971.42L140.51 972.92L140.87 974.4L141.22 975.87L141.58 977.33L141.93 978.78L142.29 980.21L142.64 981.63L143 983.05L143.35 984.45L143.71 985.86L144.06 987.25L144.42 988.65L144.77 990.04L145.13 991.44L145.48 992.83L145.84 994.23L146.19 995.63L146.55 997.04L146.91 998.45L147.26 999.86L147.62 1001.28L147.97 1002.71L148.33 1004.13L148.68 1005.55L149.04 1006.98L149.39 1008.4L149.75 1009.82L150.1 1011.24L150.46 1012.65L150.81 1014.06L151.17 1015.47L151.52 1016.87L151.88 1018.26L152.23 1019.65L152.59 1021.02L152.94 1022.39L153.3 1023.74L153.65 1025.09L154.01 1026.42L154.36 1027.74L154.72 1029.04L155.07 1030.33L155.96 1033.48L157.74 1039.45L159.52 1044.86L161.29 1049.65L163.07 1053.86L164.85 1057.5L166.63 1060.62L168.41 1063.24L170.18 1065.4L171.96 1067.13L173.74 1068.45L175.52 1069.4L177.29 1070.02L179.07 1070.33L180.85 1070.37L182.63 1070.16L184.4 1069.74L186.18 1069.14L187.96 1068.4L189.74 1067.54L191.52 1066.58L193.29 1065.53L195.07 1064.4L196.85 1063.19L198.63 1061.9L200.4 1060.54L202.18 1059.12L203.96 1057.63L205.74 1056.08L207.52 1054.47L209.29 1052.82L211.07 1051.11L212.85 1049.37L214.63 1047.59L216.4 1045.77L218.18 1043.93L219.96 1042.06L221.74 1040.17L223.51 1038.26L225.29 1036.34L227.07 1034.41L228.85 1032.48L230.63 1030.54L232.4 1028.61L234.18 1026.67L235.96 1024.74L237.74 1022.81L239.51 1020.88L241.29 1018.97L243.07 1017.06L244.85 1015.16L246.62 1013.28L248.4 1011.41L250.18 1009.56L251.96 1007.73L253.74 1005.92L255.51 1004.13L257.29 1002.36L259.07 1000.62L260.85 998.91L262.62 997.22L264.4 995.57L266.18 995L267.96 993.32L269.73 991.67L271.51 990.03L273.29 988.4L275.07 986.81L276.85 985.27L278.62 983.76L280.4 982.3L282.18 980.92L283.96 979.58L285.73 978.32L287.51 977.14L289.29 976.02L291.07 974.99L292.84 974.07L294.62 973.21L296.4 972.45L298.18 971.82L299.96 971.24L301.73 970.78L303.51 970.49L305.29 970.26L307.07 970.11L308.84 970.07L310.62 970.14L312.4 970.26L314.18 970.42L315.95 970.61L317.73 970.87L319.51 971.22L321.29 971.64L323.07 972.09L324.84 972.58L326.62 973.15L328.4 973.78L330.18 974.44L331.95 975.15L333.73 975.92L335.51 976.73L337.29 977.59L339.06 978.47L340.84 979.41L342.62 980.4L344.4 981.41L346.18 982.45L347.95 983.52L349.73 984.63L351.51 985.77L353.29 986.92L355.06 988.1L356.84 989.3L358.62 990.51L360.4 991.73L362.17 993.01L363.95 994.29L365.73 995.52L367.51 996.66L369.29 997.7L371.06 998.69L372.84 999.68L374.62 1000.67L376.4 1001.65L378.17 1002.61L379.95 1003.54L381.73 1004.46L383.51 1005.34L385.28 1006.18L387.06 1006.99L388.84 1007.76L390.62 1008.48L392.4 1009.17L394.17 1009.81L395.95 1010.39L397.73 1010.92L399.51 1011.41L401.28 1011.83L403.06 1012.19L404.84 1012.52L406.62 1012.76L408.39 1012.92L410.17 1013.04L411.95 1013.13L413.73 1013.13L415.51 1013.08L417.28 1012.99L419.06 1012.88L420.84 1012.75L422.62 1012.55L424.39 1012.29L426.17 1012L427.95 1011.7L429.73 1011.34L431.5 1010.94L433.28 1010.51L435.06 1010.05L436.84 1009.55L438.62 1009.02L440.39 1008.45L442.17 1007.87L443.95 1007.25L445.73 1006.6L447.5 1005.93L449.28 1005.24L451.06 1004.52L452.84 1003.78L454.61 1003.03L456.39 1002.26L458.17 1001.47L459.95 1000.67L461.73 999.86L463.5 999.04L465.28 998.21L467.06 997.37L468.84 996.55L470.61 995.76L472.39 994.98L474.17 994.22L475.95 993.46L477.72 992.71L479.5 991.97L481.28 991.24L483.06 990.54L484.84 989.85L486.61 989.19L488.39 988.56L490.17 987.95L491.95 987.37L493.72 986.83L495.5 986.31L497.28 985.83L499.06 985.4L500.83 985L502.61 984.64L504.39 984.33L506.17 984.05L507.95 983.81L509.72 983.63L511.5 983.52L513.28 983.42L515.06 983.37L516.83 983.37L518.61 983.41L520.39 983.49L522.17 983.59L523.94 983.71L525.72 983.9L527.5 984.12L529.28 984.37L531.06 984.64L532.83 984.97L534.61 985.32L536.39 985.69L538.17 986.09L539.94 986.53L541.72 987L543.5 987.48L545.28 988L547.05 988.54L548.83 989.09L550.61 989.67L552.39 990.27L554.17 990.89L555.94 991.51L557.72 992.16L559.5 992.81L561.28 993.48L563.05 994.16L564.83 994.87L566.61 995.57L568.39 996.21L570.16 996.76L571.94 997.27L573.72 997.74L575.5 998.23L577.28 998.72L579.05 999.2L580.83 999.68L582.61 1000.15L584.39 1000.6L586.16 1001.05L587.94 1001.48L589.72 1001.89L591.5 1002.3L593.27 1002.68L595.05 1003.05L596.83 1003.39L598.61 1003.72L600.39 1004.03L602.16 1004.31L603.94 1004.57L605.72 1004.82L607.5 1005.03L609.27 1005.21L611.05 1005.39L612.83 1005.53L614.61 1005.64L616.38 1005.71L618.16 1005.78L619.94 1005.82L621.72 1005.83L623.5 1005.8L625.27 1005.74L627.05 1005.67L628.83 1005.57L630.61 1005.42L632.38 1005.24L634.16 1005.04L635.94 1004.81L637.72 1004.54L639.49 1004.25L641.27 1003.94L643.05 1003.6L644.83 1003.23L646.61 1002.85L648.38 1002.44L650.16 1002.01L651.94 1001.56L653.72 1001.1L655.49 1000.62L657.27 1000.12L659.05 999.62L660.83 999.1L662.6 998.57L664.38 998.04L666.16 997.49L667.94 996.94L669.72 996.4L671.49 995.88L673.27 995.37L675.05 994.87L676.83 994.37L678.6 993.88L680.38 993.39L682.16 992.91L683.94 992.45L685.71 991.99L687.49 991.55L689.27 991.13L691.05 990.73L692.83 990.34L694.6 989.97L696.38 989.63L698.16 989.3L699.94 989L701.71 988.73L703.49 988.47L705.27 988.25L707.05 988.06L708.82 987.88L710.6 987.73L712.38 987.63L714.16 987.56L715.94 987.5L717.71 987.47L719.49 987.47L721.27 987.51L723.05 987.57L724.82 987.64L726.6 987.75L728.38 987.89L730.16 988.06L731.93 988.25L733.71 988.47L735.49 988.71L737.27 988.97L739.05 989.26L740.82 989.57L742.6 989.9L744.38 990.25L746.16 990.61L747.93 991L749.71 991.4L751.49 991.82L753.27 992.25L755.04 992.7L756.82 993.15L758.6 993.62L760.38 994.09L762.16 994.57L763.93 995.06L765.71 995.56L767.49 996.05L769.27 996.51L771.04 996.94L772.82 997.36L774.6 997.78L776.38 998.2L778.15 998.61L779.93 999.02L781.71 999.41L783.49 999.8L785.27 1000.18L787.04 1000.53L788.82 1000.88L790.6 1001.21L792.38 1001.53L794.15 1001.82L795.93 1002.11L797.71 1002.37L799.49 1002.6L801.26 1002.82L803.04 1003.02L804.82 1003.19L806.6 1003.34L808.38 1003.48L810.15 1003.58L811.93 1003.65L813.71 1003.7L815.49 1003.74L817.26 1003.74L819.04 1003.72L820.82 1003.69L822.6 1003.64L824.37 1003.58L826.15 1003.49L827.93 1003.38L829.71 1003.25L831.49 1003.11L833.26 1002.95L835.04 1002.77L836.82 1002.58L838.6 1002.37L840.37 1002.15L842.15 1001.91L843.93 1001.65L845.71 1001.39L847.48 1001.11L849.26 1000.81L851.04 1000.51L852.82 1000.2L854.6 999.88L856.37 999.54L858.15 999.2L859.93 998.86L861.71 998.5L863.48 998.14L865.26 997.78L867.04 997.41L868.82 997.05L870.59 996.68L872.37 996.29L874.15 995.87L875.93 995.43L877.71 995L879.48 994.58L881.26 994.17L883.04 993.77L884.82 993.37L886.59 992.99L888.37 992.63L890.15 992.28L891.93 991.94L893.7 991.63L895.48 991.33L897.26 991.06L899.04 990.81L900.82 990.58L902.59 990.37L904.37 990.2L906.15 990.04L907.93 989.91L909.7 989.82L911.48 989.76L913.26 989.71L915.04 989.69L916.81 989.7L918.59 989.73L920.37 989.77L922.15 989.82L923.93 989.89L925.7 989.99L927.48 990.1L929.26 990.22L931.04 990.36L932.81 990.51L934.59 990.69L936.37 990.87L938.15 991.06L939.92 991.28L941.7 991.5L943.48 991.74L945.26 991.99L947.04 992.25L948.81 992.52L950.59 992.8L952.37 993.08L954.15 993.38L955.92 993.69L957.7 994L959.48 994.32L961.26 994.64L963.03 994.96L964.81 995.28L966.59 995.59L968.37 995.92L970.15 996.3L971.92 996.78L973.7 997.28L975.48 997.74L977.26 998.18L979.03 998.58L980.81 998.93L982.59 999.22L984.37 999.47L986.14 999.64L987.92 999.74L989.7 999.78" fill="none" stroke="#00ff00" stroke-width="2.4" stroke-linejoin="round" stroke-dasharray="10.2 9.3"/><path d="M101.8 996.3L101.98 991.95L102.16 987.6L102.33 983.25L102.51 978.9L102.69 974.56L102.87 970.21L103.04 965.77L103.22 961.22L103.4 956.67L103.58 952.23L103.75 948.01L103.93 944.12L104.11 940.7L104.29 937.62L104.46 934.53L104.64 931.07L104.82 926.85L105 922.24L105.17 918.02L105.35 914.48L105.53 911.25L105.71 908.15L105.88 904.98L106.06 901.7L106.24 898.41L106.42 895.14L106.59 891.93L106.77 888.74L106.95 885.52L107.13 882.3L107.3 879.12L107.48 875.99L107.66 872.94L107.84 869.99L108.02 867.18L108.19 864.52L108.37 861.91L108.55 859.39L108.73 857.01L108.9 854.79L109.08 852.79L109.26 850.96L109.44 849.23L109.61 847.58L109.79 846.02L109.97 844.54L110.15 843.13L110.32 841.78L110.5 840.49L110.68 839.25L110.86 838.04L111.03 836.86L111.21 835.7L111.39 834.57L111.57 833.48L111.74 832.42L111.92 831.41L112.1 830.44L112.28 829.51L112.45 828.64L112.63 827.82L112.81 827.06L112.99 826.35L113.17 825.67L113.34 825.01L113.52 824.38L113.7 823.78L113.88 823.21L114.05 822.68L114.23 822.18L114.41 821.73L114.59 821.32L114.76 820.96L114.94 821.48L115.3 822.51L115.65 823.53L116.01 824.58L116.36 825.69L116.72 826.91L117.07 828.26L117.43 829.79L117.78 831.52L118.14 833.5L118.49 835.77L118.85 838.35L119.2 841.27L119.56 844.54L119.91 848.12L120.27 852.01L120.62 856.18L120.98 860.55L121.33 864.98L121.69 869.32L122.04 873.49L122.4 877.51L122.75 881.37L123.11 885.08L123.46 888.64L123.82 892.08L124.18 895.38L124.53 898.55L124.89 901.6L125.24 904.54L125.6 907.37L125.95 910.1L126.31 912.74L126.66 915.28L127.02 917.73L127.37 920.11L127.73 922.41L128.08 924.64L128.44 926.81L128.79 928.93L129.15 930.99L129.5 933.01L129.86 934.98L130.21 936.91L130.57 938.8L130.92 940.65L131.28 942.46L131.63 944.23L131.99 945.96L132.34 947.65L132.7 949.31L133.05 950.93L133.41 952.52L133.76 954.08L134.12 955.6L134.47 957.1L134.83 958.56L135.19 959.99L135.54 961.4L135.9 962.78L136.25 964.14L136.61 965.47L136.96 966.77L137.32 968.06L137.67 969.32L138.03 970.56L138.38 971.78L138.74 972.99L139.09 974.17L139.45 975.34L139.8 976.5L140.16 977.64L140.51 978.76L140.87 979.88L141.22 980.98L141.58 982.07L141.93 983.16L142.29 984.23L142.64 985.3L143 986.36L143.35 987.42L143.71 988.47L144.06 989.52L144.42 990.56L144.77 991.61L145.13 992.65L145.48 993.7L145.84 994.75L146.19 995.8L146.55 996.85L146.91 997.91L147.26 998.97L147.62 1000.04L147.97 1001.1L148.33 1002.17L148.68 1003.24L149.04 1004.31L149.39 1005.37L149.75 1006.44L150.1 1007.5L150.46 1008.57L150.81 1009.62L151.17 1010.68L151.52 1011.73L151.88 1012.77L152.23 1013.81L152.59 1014.84L152.94 1015.86L153.3 1016.88L153.65 1017.89L154.01 1018.89L154.36 1019.88L154.72 1020.86L155.07 1021.82L155.96 1024.19L157.74 1028.66L159.52 1032.72L161.29 1036.32L163.07 1039.47L164.85 1042.2L166.63 1044.54L168.41 1046.51L170.18 1048.13L171.96 1049.42L173.74 1050.41L175.52 1051.13L177.29 1051.59L179.07 1051.82L180.85 1051.85L182.63 1051.69L184.4 1051.38L186.18 1050.93L187.96 1050.37L189.74 1049.73L191.52 1049.01L193.29 1048.23L195.07 1047.38L196.85 1046.47L198.63 1045.5L200.4 1044.48L202.18 1043.41L203.96 1042.3L205.74 1041.13L207.52 1039.93L209.29 1038.69L211.07 1037.41L212.85 1036.1L214.63 1034.77L216.4 1033.4L218.18 1032.02L219.96 1030.62L221.74 1029.2L223.51 1027.77L225.29 1026.33L227.07 1024.88L228.85 1023.43L230.63 1021.98L232.4 1020.53L234.18 1019.08L235.96 1017.63L237.74 1016.18L239.51 1014.74L241.29 1013.3L243.07 1011.87L244.85 1010.45L246.62 1009.04L248.4 1007.64L250.18 1006.25L251.96 1004.87L253.74 1003.51L255.51 1002.17L257.29 1000.85L259.07 999.54L260.85 998.26L262.62 996.99L264.4 995.75L266.18 995.33L267.96 994.07L269.73 992.82L271.51 991.59L273.29 990.38L275.07 989.18L276.85 988.03L278.62 986.89L280.4 985.8L282.18 984.76L283.96 983.76L285.73 982.81L287.51 981.93L289.29 981.09L291.07 980.32L292.84 979.63L294.62 978.98L296.4 978.41L298.18 977.94L299.96 977.51L301.73 977.16L303.51 976.94L305.29 976.77L307.07 976.65L308.84 976.63L310.62 976.68L312.4 976.77L314.18 976.89L315.95 977.03L317.73 977.23L319.51 977.49L321.29 977.81L323.07 978.14L324.84 978.51L326.62 978.94L328.4 979.41L330.18 979.91L331.95 980.44L333.73 981.01L335.51 981.62L337.29 982.26L339.06 982.93L340.84 983.64L342.62 984.37L344.4 985.13L346.18 985.91L347.95 986.72L349.73 987.55L351.51 988.4L353.29 989.26L355.06 990.15L356.84 991.05L358.62 991.96L360.4 992.88L362.17 993.83L363.95 994.79L365.73 995.72L367.51 996.57L369.29 997.35L371.06 998.09L372.84 998.83L374.62 999.58L376.4 1000.31L378.17 1001.03L379.95 1001.73L381.73 1002.42L383.51 1003.08L385.28 1003.71L387.06 1004.32L388.84 1004.9L390.62 1005.44L392.4 1005.95L394.17 1006.43L395.95 1006.86L397.73 1007.27L399.51 1007.63L401.28 1007.95L403.06 1008.22L404.84 1008.46L406.62 1008.65L408.39 1008.76L410.17 1008.86L411.95 1008.92L413.73 1008.92L415.51 1008.89L417.28 1008.82L419.06 1008.73L420.84 1008.63L422.62 1008.48L424.39 1008.29L426.17 1008.08L427.95 1007.85L429.73 1007.58L431.5 1007.28L433.28 1006.95L435.06 1006.61L436.84 1006.24L438.62 1005.84L440.39 1005.42L442.17 1004.98L443.95 1004.51L445.73 1004.02L447.5 1003.52L449.28 1003L451.06 1002.47L452.84 1001.91L454.61 1001.34L456.39 1000.77L458.17 1000.18L459.95 999.58L461.73 998.97L463.5 998.36L465.28 997.73L467.06 997.1L468.84 996.49L470.61 995.89L472.39 995.31L474.17 994.74L475.95 994.17L477.72 993.61L479.5 993.05L481.28 992.51L483.06 991.98L484.84 991.46L486.61 990.97L488.39 990.49L490.17 990.03L491.95 989.6L493.72 989.19L495.5 988.81L497.28 988.45L499.06 988.13L500.83 987.82L502.61 987.55L504.39 987.32L506.17 987.11L507.95 986.93L509.72 986.8L511.5 986.71L513.28 986.64L515.06 986.6L516.83 986.6L518.61 986.63L520.39 986.69L522.17 986.77L523.94 986.86L525.72 987L527.5 987.17L529.28 987.35L531.06 987.56L532.83 987.8L534.61 988.06L536.39 988.34L538.17 988.65L539.94 988.98L541.72 989.32L543.5 989.69L545.28 990.07L547.05 990.48L548.83 990.9L550.61 991.33L552.39 991.78L554.17 992.24L555.94 992.71L557.72 993.19L559.5 993.69L561.28 994.18L563.05 994.69L564.83 995.23L566.61 995.75L568.39 996.23L570.16 996.65L571.94 997.02L573.72 997.38L575.5 997.75L577.28 998.11L579.05 998.48L580.83 998.84L582.61 999.18L584.39 999.53L586.16 999.86L587.94 1000.18L589.72 1000.5L591.5 1000.8L593.27 1001.09L595.05 1001.36L596.83 1001.62L598.61 1001.87L600.39 1002.1L602.16 1002.31L603.94 1002.5L605.72 1002.69L607.5 1002.85L609.27 1002.99L611.05 1003.12L612.83 1003.23L614.61 1003.31L616.38 1003.36L618.16 1003.41L619.94 1003.44L621.72 1003.45L623.5 1003.43L625.27 1003.38L627.05 1003.33L628.83 1003.25L630.61 1003.14L632.38 1003L634.16 1002.85L635.94 1002.68L637.72 1002.48L639.49 1002.26L641.27 1002.03L643.05 1001.77L644.83 1001.5L646.61 1001.21L648.38 1000.9L650.16 1000.58L651.94 1000.25L653.72 999.9L655.49 999.54L657.27 999.17L659.05 998.79L660.83 998.4L662.6 998L664.38 997.6L666.16 997.19L667.94 996.78L669.72 996.38L671.49 995.99L673.27 995.6L675.05 995.23L676.83 994.85L678.6 994.48L680.38 994.12L682.16 993.76L683.94 993.41L685.71 993.07L687.49 992.74L689.27 992.42L691.05 992.12L692.83 991.83L694.6 991.55L696.38 991.29L698.16 991.05L699.94 990.83L701.71 990.62L703.49 990.43L705.27 990.26L707.05 990.12L708.82 989.99L710.6 989.87L712.38 989.8L714.16 989.74L715.94 989.7L717.71 989.67L719.49 989.68L721.27 989.71L723.05 989.75L724.82 989.81L726.6 989.89L728.38 990L730.16 990.12L731.93 990.26L733.71 990.42L735.49 990.61L737.27 990.8L739.05 991.02L740.82 991.25L742.6 991.5L744.38 991.76L746.16 992.04L747.93 992.33L749.71 992.63L751.49 992.94L753.27 993.26L755.04 993.6L756.82 993.94L758.6 994.29L760.38 994.64L762.16 995L763.93 995.37L765.71 995.75L767.49 996.11L769.27 996.46L771.04 996.78L772.82 997.1L774.6 997.41L776.38 997.73L778.15 998.04L779.93 998.34L781.71 998.64L783.49 998.93L785.27 999.21L787.04 999.48L788.82 999.74L790.6 999.99L792.38 1000.22L794.15 1000.44L795.93 1000.65L797.71 1000.85L799.49 1001.03L801.26 1001.19L803.04 1001.34L804.82 1001.47L806.6 1001.58L808.38 1001.68L810.15 1001.76L811.93 1001.81L813.71 1001.85L815.49 1001.88L817.26 1001.88L819.04 1001.87L820.82 1001.84L822.6 1001.8L824.37 1001.76L826.15 1001.69L827.93 1001.61L829.71 1001.51L831.49 1001.41L833.26 1001.29L835.04 1001.15L836.82 1001.01L838.6 1000.85L840.37 1000.68L842.15 1000.5L843.93 1000.31L845.71 1000.12L847.48 999.91L849.26 999.69L851.04 999.46L852.82 999.22L854.6 998.98L856.37 998.73L858.15 998.48L859.93 998.22L861.71 997.95L863.48 997.68L865.26 997.41L867.04 997.13L868.82 996.86L870.59 996.58L872.37 996.29L874.15 995.98L875.93 995.65L877.71 995.33L879.48 995.01L881.26 994.7L883.04 994.4L884.82 994.11L886.59 993.82L888.37 993.55L890.15 993.28L891.93 993.03L893.7 992.8L895.48 992.58L897.26 992.37L899.04 992.18L900.82 992.01L902.59 991.85L904.37 991.72L906.15 991.61L907.93 991.51L909.7 991.44L911.48 991.39L913.26 991.36L915.04 991.34L916.81 991.35L918.59 991.37L920.37 991.4L922.15 991.44L923.93 991.49L925.7 991.56L927.48 991.65L929.26 991.74L931.04 991.84L932.81 991.96L934.59 992.09L936.37 992.23L938.15 992.37L939.92 992.53L941.7 992.7L943.48 992.88L945.26 993.06L947.04 993.26L948.81 993.46L950.59 993.67L952.37 993.89L954.15 994.11L955.92 994.34L957.7 994.57L959.48 994.81L961.26 995.05L963.03 995.3L964.81 995.54L966.59 995.77L968.37 996.01L970.15 996.3L971.92 996.66L973.7 997.03L975.48 997.38L977.26 997.71L979.03 998.01L980.81 998.27L982.59 998.49L984.37 998.67L986.14 998.81L987.92 998.88L989.7 998.91" fill="none" stroke="#0000ff" stroke-width="2.4" stroke-linejoin="round" stroke-dasharray="3.5 8.2"/><path d="M101.8 996.3L101.98 992.82L102.16 989.34L102.33 985.86L102.51 982.38L102.69 978.9L102.87 975.43L103.04 971.87L103.22 968.23L103.4 964.6L103.58 961.04L103.75 957.67L103.93 954.55L104.11 951.82L104.29 949.36L104.46 946.88L104.64 944.12L104.82 940.74L105 937.05L105.17 933.68L105.35 930.85L105.53 928.26L105.71 925.78L105.88 923.24L106.06 920.62L106.24 917.99L106.42 915.37L106.59 912.8L106.77 910.25L106.95 907.67L107.13 905.1L107.3 902.55L107.48 900.05L107.66 897.61L107.84 895.26L108.02 893.01L108.19 890.87L108.37 888.79L108.55 886.78L108.73 884.87L108.9 883.09L109.08 881.49L109.26 880.03L109.44 878.64L109.61 877.33L109.79 876.08L109.97 874.89L110.15 873.76L110.32 872.68L110.5 871.65L110.68 870.66L110.86 869.7L111.03 868.75L111.21 867.82L111.39 866.92L111.57 866.04L111.74 865.2L111.92 864.39L112.1 863.61L112.28 862.87L112.45 862.17L112.63 861.52L112.81 860.91L112.99 860.34L113.17 859.79L113.34 859.27L113.52 858.76L113.7 858.28L113.88 857.83L114.05 857.4L114.23 857.01L114.41 856.64L114.59 856.32L114.76 856.03L114.94 856.44L115.3 857.27L115.65 858.08L116.01 858.92L116.36 859.82L116.72 860.79L117.07 861.87L117.43 863.09L117.78 864.48L118.14 866.06L118.49 867.87L118.85 869.94L119.2 872.28L119.56 874.89L119.91 877.75L120.27 880.86L120.62 884.2L120.98 887.7L121.33 891.24L121.69 894.71L122.04 898.05L122.4 901.26L122.75 904.35L123.11 907.32L123.46 910.18L123.82 912.92L124.18 915.56L124.53 918.1L124.89 920.54L125.24 922.89L125.6 925.16L125.95 927.34L126.31 929.45L126.66 931.48L127.02 933.45L127.37 935.35L127.73 937.19L128.08 938.97L128.44 940.71L128.79 942.4L129.15 944.05L129.5 945.67L129.86 947.25L130.21 948.79L130.57 950.3L130.92 951.78L131.28 953.23L131.63 954.64L131.99 956.03L132.34 957.38L132.7 958.71L133.05 960.01L133.41 961.28L133.76 962.52L134.12 963.74L134.47 964.94L134.83 966.11L135.19 967.26L135.54 968.38L135.9 969.49L136.25 970.57L136.61 971.63L136.96 972.68L137.32 973.71L137.67 974.72L138.03 975.71L138.38 976.69L138.74 977.65L139.09 978.6L139.45 979.53L139.8 980.46L140.16 981.37L140.51 982.27L140.87 983.16L141.22 984.04L141.58 984.92L141.93 985.79L142.29 986.64L142.64 987.5L143 988.35L143.35 989.19L143.71 990.03L144.06 990.87L144.42 991.71L144.77 992.55L145.13 993.38L145.48 994.22L145.84 995.06L146.19 995.9L146.55 996.74L146.91 997.59L147.26 998.44L147.62 999.29L147.97 1000.14L148.33 1001L148.68 1001.85L149.04 1002.71L149.39 1003.56L149.75 1004.41L150.1 1005.26L150.46 1006.11L150.81 1006.96L151.17 1007.8L151.52 1008.64L151.88 1009.48L152.23 1010.31L152.59 1011.13L152.94 1011.95L153.3 1012.76L153.65 1013.57L154.01 1014.37L154.36 1015.16L154.72 1015.94L155.07 1016.72L155.96 1018.61L157.74 1022.19L159.52 1025.44L161.29 1028.31L163.07 1030.84L164.85 1033.02L166.63 1034.89L168.41 1036.47L170.18 1037.76L171.96 1038.8L173.74 1039.59L175.52 1040.16L177.29 1040.53L179.07 1040.72L180.85 1040.74L182.63 1040.62L184.4 1040.36L186.18 1040.01L187.96 1039.56L189.74 1039.04L191.52 1038.47L193.29 1037.84L195.07 1037.16L196.85 1036.44L198.63 1035.66L200.4 1034.85L202.18 1033.99L203.96 1033.1L205.74 1032.17L207.52 1031.2L209.29 1030.21L211.07 1029.19L212.85 1028.14L214.63 1027.07L216.4 1025.98L218.18 1024.88L219.96 1023.75L221.74 1022.62L223.51 1021.48L225.29 1020.32L227.07 1019.17L228.85 1018.01L230.63 1016.85L232.4 1015.68L234.18 1014.52L235.96 1013.36L237.74 1012.2L239.51 1011.05L241.29 1009.9L243.07 1008.76L244.85 1007.62L246.62 1006.49L248.4 1005.37L250.18 1004.26L251.96 1003.16L253.74 1002.07L255.51 1001L257.29 999.94L259.07 998.89L260.85 997.86L262.62 996.85L264.4 995.86L266.18 995.52L267.96 994.51L269.73 993.52L271.51 992.54L273.29 991.56L275.07 990.61L276.85 989.68L278.62 988.78L280.4 987.9L282.18 987.07L283.96 986.27L285.73 985.51L287.51 984.8L289.29 984.13L291.07 983.51L292.84 982.96L294.62 982.45L296.4 981.99L298.18 981.61L299.96 981.27L301.73 980.99L303.51 980.81L305.29 980.68L307.07 980.58L308.84 980.56L310.62 980.6L312.4 980.68L314.18 980.77L315.95 980.88L317.73 981.04L319.51 981.25L321.29 981.51L323.07 981.77L324.84 982.07L326.62 982.41L328.4 982.79L330.18 983.18L331.95 983.61L333.73 984.07L335.51 984.56L337.29 985.07L339.06 985.6L340.84 986.17L342.62 986.76L344.4 987.36L346.18 987.99L347.95 988.63L349.73 989.3L351.51 989.98L353.29 990.67L355.06 991.38L356.84 992.1L358.62 992.83L360.4 993.56L362.17 994.32L363.95 995.09L365.73 995.83L367.51 996.51L369.29 997.14L371.06 997.73L372.84 998.33L374.62 998.92L376.4 999.51L378.17 1000.09L379.95 1000.65L381.73 1001.19L383.51 1001.72L385.28 1002.23L387.06 1002.71L388.84 1003.18L390.62 1003.61L392.4 1004.02L394.17 1004.41L395.95 1004.75L397.73 1005.07L399.51 1005.37L401.28 1005.62L403.06 1005.83L404.84 1006.03L406.62 1006.18L408.39 1006.27L410.17 1006.35L411.95 1006.4L413.73 1006.4L415.51 1006.37L417.28 1006.31L419.06 1006.25L420.84 1006.17L422.62 1006.05L424.39 1005.89L426.17 1005.72L427.95 1005.54L429.73 1005.32L431.5 1005.08L433.28 1004.82L435.06 1004.55L436.84 1004.25L438.62 1003.93L440.39 1003.59L442.17 1003.24L443.95 1002.87L445.73 1002.48L447.5 1002.08L449.28 1001.66L451.06 1001.23L452.84 1000.79L454.61 1000.34L456.39 999.88L458.17 999.4L459.95 998.92L461.73 998.44L463.5 997.95L465.28 997.45L467.06 996.94L468.84 996.45L470.61 995.97L472.39 995.51L474.17 995.05L475.95 994.6L477.72 994.14L479.5 993.7L481.28 993.27L483.06 992.84L484.84 992.43L486.61 992.03L488.39 991.65L490.17 991.29L491.95 990.94L493.72 990.62L495.5 990.31L497.28 990.02L499.06 989.76L500.83 989.52L502.61 989.3L504.39 989.12L506.17 988.95L507.95 988.81L509.72 988.7L511.5 988.63L513.28 988.57L515.06 988.54L516.83 988.54L518.61 988.57L520.39 988.61L522.17 988.67L523.94 988.75L525.72 988.86L527.5 988.99L529.28 989.14L531.06 989.31L532.83 989.5L534.61 989.71L536.39 989.93L538.17 990.18L539.94 990.44L541.72 990.72L543.5 991.01L545.28 991.32L547.05 991.64L548.83 991.98L550.61 992.32L552.39 992.68L554.17 993.05L555.94 993.43L557.72 993.81L559.5 994.21L561.28 994.61L563.05 995.01L564.83 995.44L566.61 995.86L568.39 996.25L570.16 996.58L571.94 996.88L573.72 997.17L575.5 997.46L577.28 997.75L579.05 998.04L580.83 998.33L582.61 998.61L584.39 998.88L586.16 999.15L587.94 999.41L589.72 999.66L591.5 999.9L593.27 1000.13L595.05 1000.35L596.83 1000.55L598.61 1000.75L600.39 1000.94L602.16 1001.11L603.94 1001.26L605.72 1001.41L607.5 1001.54L609.27 1001.65L611.05 1001.75L612.83 1001.84L614.61 1001.9L616.38 1001.95L618.16 1001.99L619.94 1002.01L621.72 1002.02L623.5 1002L625.27 1001.97L627.05 1001.92L628.83 1001.86L630.61 1001.77L632.38 1001.66L634.16 1001.54L635.94 1001.4L637.72 1001.24L639.49 1001.07L641.27 1000.88L643.05 1000.68L644.83 1000.46L646.61 1000.23L648.38 999.98L650.16 999.73L651.94 999.46L653.72 999.18L655.49 998.89L657.27 998.59L659.05 998.29L660.83 997.98L662.6 997.66L664.38 997.34L666.16 997.01L667.94 996.68L669.72 996.36L671.49 996.05L673.27 995.74L675.05 995.44L676.83 995.14L678.6 994.85L680.38 994.55L682.16 994.27L683.94 993.99L685.71 993.71L687.49 993.45L689.27 993.2L691.05 992.96L692.83 992.72L694.6 992.5L696.38 992.3L698.16 992.1L699.94 991.92L701.71 991.76L703.49 991.6L705.27 991.47L707.05 991.35L708.82 991.25L710.6 991.16L712.38 991.1L714.16 991.05L715.94 991.02L717.71 991L719.49 991L721.27 991.03L723.05 991.06L724.82 991.11L726.6 991.17L728.38 991.26L730.16 991.36L731.93 991.47L733.71 991.6L735.49 991.75L737.27 991.9L739.05 992.07L740.82 992.26L742.6 992.46L744.38 992.67L746.16 992.89L747.93 993.12L749.71 993.36L751.49 993.61L753.27 993.87L755.04 994.14L756.82 994.41L758.6 994.69L760.38 994.97L762.16 995.26L763.93 995.56L765.71 995.86L767.49 996.15L769.27 996.43L771.04 996.69L772.82 996.94L774.6 997.19L776.38 997.44L778.15 997.69L779.93 997.93L781.71 998.17L783.49 998.4L785.27 998.63L787.04 998.84L788.82 999.05L790.6 999.25L792.38 999.44L794.15 999.61L795.93 999.78L797.71 999.94L799.49 1000.08L801.26 1000.21L803.04 1000.33L804.82 1000.44L806.6 1000.53L808.38 1000.61L810.15 1000.67L811.93 1000.71L813.71 1000.74L815.49 1000.76L817.26 1000.77L819.04 1000.75L820.82 1000.73L822.6 1000.7L824.37 1000.67L826.15 1000.61L827.93 1000.55L829.71 1000.47L831.49 1000.39L833.26 1000.29L835.04 1000.18L836.82 1000.07L838.6 999.94L840.37 999.81L842.15 999.66L843.93 999.51L845.71 999.35L847.48 999.18L849.26 999.01L851.04 998.83L852.82 998.64L854.6 998.45L856.37 998.25L858.15 998.04L859.93 997.83L861.71 997.62L863.48 997.4L865.26 997.19L867.04 996.97L868.82 996.75L870.59 996.53L872.37 996.29L874.15 996.04L875.93 995.78L877.71 995.52L879.48 995.27L881.26 995.02L883.04 994.78L884.82 994.54L886.59 994.32L888.37 994.1L890.15 993.89L891.93 993.69L893.7 993.5L895.48 993.32L897.26 993.15L899.04 993L900.82 992.87L902.59 992.74L904.37 992.64L906.15 992.55L907.93 992.47L909.7 992.41L911.48 992.37L913.26 992.35L915.04 992.33L916.81 992.34L918.59 992.36L920.37 992.38L922.15 992.41L923.93 992.45L925.7 992.51L927.48 992.58L929.26 992.65L931.04 992.73L932.81 992.83L934.59 992.93L936.37 993.04L938.15 993.16L939.92 993.29L941.7 993.42L943.48 993.56L945.26 993.71L947.04 993.87L948.81 994.03L950.59 994.2L952.37 994.37L954.15 994.55L955.92 994.73L957.7 994.92L959.48 995.11L961.26 995.3L963.03 995.5L964.81 995.69L966.59 995.87L968.37 996.07L970.15 996.3L971.92 996.59L973.7 996.89L975.48 997.16L977.26 997.43L979.03 997.67L980.81 997.88L982.59 998.05L984.37 998.2L986.14 998.3L987.92 998.36L989.7 998.39" fill="none" stroke="#ff00ff" stroke-width="2.4" stroke-linejoin="round" stroke-dasharray="12.3 4.4 3.7 4.4"/><path d="M101.8 996.3L101.98 993.4L102.16 990.5L102.33 987.6L102.51 984.7L102.69 981.8L102.87 978.9L103.04 975.95L103.22 972.91L103.4 969.88L103.58 966.92L103.75 964.11L103.93 961.51L104.11 959.24L104.29 957.18L104.46 955.12L104.64 952.81L104.82 950L105 946.93L105.17 944.12L105.35 941.76L105.53 939.6L105.71 937.53L105.88 935.42L106.06 933.23L106.24 931.04L106.42 928.86L106.59 926.72L106.77 924.59L106.95 922.45L107.13 920.3L107.3 918.18L107.48 916.09L107.66 914.06L107.84 912.1L108.02 910.22L108.19 908.44L108.37 906.71L108.55 905.03L108.73 903.44L108.9 901.96L109.08 900.63L109.26 899.41L109.44 898.25L109.61 897.15L109.79 896.11L109.97 895.13L110.15 894.18L110.32 893.29L110.5 892.43L110.68 891.6L110.86 890.8L111.03 890.01L111.21 889.23L111.39 888.48L111.57 887.75L111.74 887.05L111.92 886.37L112.1 885.72L112.28 885.11L112.45 884.53L112.63 883.98L112.81 883.47L112.99 883L113.17 882.55L113.34 882.11L113.52 881.69L113.7 881.29L113.88 880.91L114.05 880.55L114.23 880.22L114.41 879.92L114.59 879.65L114.76 879.41L114.94 879.75L115.3 880.44L115.65 881.12L116.01 881.82L116.36 882.56L116.72 883.37L117.07 884.27L117.43 885.29L117.78 886.45L118.14 887.77L118.49 889.28L118.85 891L119.2 892.95L119.56 895.12L119.91 897.51L120.27 900.1L120.62 902.89L120.98 905.8L121.33 908.75L121.69 911.64L122.04 914.43L122.4 917.1L122.75 919.68L123.11 922.15L123.46 924.53L123.82 926.82L124.18 929.02L124.53 931.13L124.89 933.17L125.24 935.13L125.6 937.02L125.95 938.84L126.31 940.59L126.66 942.28L127.02 943.92L127.37 945.5L127.73 947.04L128.08 948.53L128.44 949.98L128.79 951.39L129.15 952.76L129.5 954.11L129.86 955.42L130.21 956.71L130.57 957.97L130.92 959.2L131.28 960.41L131.63 961.58L131.99 962.74L132.34 963.87L132.7 964.97L133.05 966.05L133.41 967.11L133.76 968.15L134.12 969.17L134.47 970.16L134.83 971.14L135.19 972.1L135.54 973.03L135.9 973.95L136.25 974.86L136.61 975.74L136.96 976.62L137.32 977.47L137.67 978.31L138.03 979.14L138.38 979.96L138.74 980.76L139.09 981.55L139.45 982.33L139.8 983.1L140.16 983.86L140.51 984.61L140.87 985.35L141.22 986.09L141.58 986.82L141.93 987.54L142.29 988.25L142.64 988.97L143 989.67L143.35 990.38L143.71 991.08L144.06 991.78L144.42 992.47L144.77 993.17L145.13 993.87L145.48 994.57L145.84 995.26L146.19 995.97L146.55 996.67L146.91 997.37L147.26 998.08L147.62 998.79L147.97 999.5L148.33 1000.21L148.68 1000.93L149.04 1001.64L149.39 1002.35L149.75 1003.06L150.1 1003.77L150.46 1004.48L150.81 1005.18L151.17 1005.88L151.52 1006.58L151.88 1007.28L152.23 1007.97L152.59 1008.66L152.94 1009.34L153.3 1010.02L153.65 1010.69L154.01 1011.36L154.36 1012.02L154.72 1012.67L155.07 1013.32L155.96 1014.89L157.74 1017.87L159.52 1020.58L161.29 1022.98L163.07 1025.08L164.85 1026.9L166.63 1028.46L168.41 1029.77L170.18 1030.85L171.96 1031.71L173.74 1032.37L175.52 1032.85L177.29 1033.16L179.07 1033.32L180.85 1033.33L182.63 1033.23L184.4 1033.02L186.18 1032.72L187.96 1032.35L189.74 1031.92L191.52 1031.44L193.29 1030.92L195.07 1030.35L196.85 1029.75L198.63 1029.1L200.4 1028.42L202.18 1027.71L203.96 1026.96L205.74 1026.19L207.52 1025.39L209.29 1024.56L211.07 1023.71L212.85 1022.83L214.63 1021.94L216.4 1021.04L218.18 1020.11L219.96 1019.18L221.74 1018.23L223.51 1017.28L225.29 1016.32L227.07 1015.36L228.85 1014.39L230.63 1013.42L232.4 1012.45L234.18 1011.49L235.96 1010.52L237.74 1009.55L239.51 1008.59L241.29 1007.63L243.07 1006.68L244.85 1005.73L246.62 1004.79L248.4 1003.86L250.18 1002.93L251.96 1002.02L253.74 1001.11L255.51 1000.21L257.29 999.33L259.07 998.46L260.85 997.6L262.62 996.76L264.4 995.93L266.18 995.65L267.96 994.81L269.73 993.98L271.51 993.16L273.29 992.35L275.07 991.56L276.85 990.78L278.62 990.03L280.4 989.3L282.18 988.61L283.96 987.94L285.73 987.31L287.51 986.72L289.29 986.16L291.07 985.65L292.84 985.18L294.62 984.75L296.4 984.37L298.18 984.06L299.96 983.77L301.73 983.54L303.51 983.39L305.29 983.28L307.07 983.2L308.84 983.19L310.62 983.22L312.4 983.28L314.18 983.36L315.95 983.45L317.73 983.58L319.51 983.76L321.29 983.97L323.07 984.19L324.84 984.44L326.62 984.73L328.4 985.04L330.18 985.37L331.95 985.72L333.73 986.11L335.51 986.52L337.29 986.94L339.06 987.39L340.84 987.86L342.62 988.35L344.4 988.85L346.18 989.37L347.95 989.91L349.73 990.47L351.51 991.03L353.29 991.61L355.06 992.2L356.84 992.8L358.62 993.4L360.4 994.02L362.17 994.65L363.95 995.29L365.73 995.91L367.51 996.48L369.29 997L371.06 997.5L372.84 997.99L374.62 998.49L376.4 998.98L378.17 999.46L379.95 999.92L381.73 1000.38L383.51 1000.82L385.28 1001.24L387.06 1001.64L388.84 1002.03L390.62 1002.39L392.4 1002.73L394.17 1003.05L395.95 1003.34L397.73 1003.61L399.51 1003.85L401.28 1004.06L403.06 1004.25L404.84 1004.41L406.62 1004.53L408.39 1004.61L410.17 1004.67L411.95 1004.71L413.73 1004.72L415.51 1004.69L417.28 1004.65L419.06 1004.59L420.84 1004.52L422.62 1004.42L424.39 1004.3L426.17 1004.15L427.95 1004L429.73 1003.82L431.5 1003.62L433.28 1003.4L435.06 1003.17L436.84 1002.93L438.62 1002.66L440.39 1002.38L442.17 1002.08L443.95 1001.77L445.73 1001.45L447.5 1001.11L449.28 1000.77L451.06 1000.41L452.84 1000.04L454.61 999.66L456.39 999.28L458.17 998.89L459.95 998.49L461.73 998.08L463.5 997.67L465.28 997.25L467.06 996.84L468.84 996.43L470.61 996.03L472.39 995.64L474.17 995.26L475.95 994.88L477.72 994.5L479.5 994.13L481.28 993.77L483.06 993.42L484.84 993.08L486.61 992.75L488.39 992.43L490.17 992.12L491.95 991.83L493.72 991.56L495.5 991.31L497.28 991.07L499.06 990.85L500.83 990.65L502.61 990.47L504.39 990.31L506.17 990.18L507.95 990.06L509.72 989.97L511.5 989.91L513.28 989.86L515.06 989.83L516.83 989.83L518.61 989.86L520.39 989.9L522.17 989.94L523.94 990.01L525.72 990.1L527.5 990.21L529.28 990.33L531.06 990.47L532.83 990.63L534.61 990.81L536.39 990.99L538.17 991.2L539.94 991.42L541.72 991.65L543.5 991.89L545.28 992.15L547.05 992.42L548.83 992.7L550.61 992.99L552.39 993.29L554.17 993.59L555.94 993.91L557.72 994.23L559.5 994.56L561.28 994.89L563.05 995.23L564.83 995.58L566.61 995.93L568.39 996.26L570.16 996.53L571.94 996.78L573.72 997.02L575.5 997.26L577.28 997.51L579.05 997.75L580.83 997.99L582.61 998.22L584.39 998.45L586.16 998.67L587.94 998.89L589.72 999.1L591.5 999.3L593.27 999.49L595.05 999.67L596.83 999.85L598.61 1000.01L600.39 1000.16L602.16 1000.3L603.94 1000.44L605.72 1000.56L607.5 1000.67L609.27 1000.76L611.05 1000.84L612.83 1000.92L614.61 1000.97L616.38 1001.01L618.16 1001.04L619.94 1001.06L621.72 1001.07L623.5 1001.05L625.27 1001.02L627.05 1000.98L628.83 1000.94L630.61 1000.86L632.38 1000.77L634.16 1000.67L635.94 1000.55L637.72 1000.42L639.49 1000.28L641.27 1000.12L643.05 999.95L644.83 999.77L646.61 999.57L648.38 999.37L650.16 999.15L651.94 998.93L653.72 998.7L655.49 998.46L657.27 998.21L659.05 997.96L660.83 997.7L662.6 997.43L664.38 997.17L666.16 996.9L667.94 996.62L669.72 996.35L671.49 996.09L673.27 995.84L675.05 995.58L676.83 995.34L678.6 995.09L680.38 994.84L682.16 994.61L683.94 994.37L685.71 994.15L687.49 993.93L689.27 993.72L691.05 993.51L692.83 993.32L694.6 993.14L696.38 992.96L698.16 992.8L699.94 992.65L701.71 992.51L703.49 992.39L705.27 992.27L707.05 992.18L708.82 992.09L710.6 992.02L712.38 991.97L714.16 991.93L715.94 991.9L717.71 991.88L719.49 991.89L721.27 991.9L723.05 991.94L724.82 991.97L726.6 992.02L728.38 992.1L730.16 992.18L731.93 992.27L733.71 992.38L735.49 992.51L737.27 992.64L739.05 992.78L740.82 992.93L742.6 993.1L744.38 993.27L746.16 993.46L747.93 993.65L749.71 993.85L751.49 994.06L753.27 994.28L755.04 994.5L756.82 994.73L758.6 994.96L760.38 995.2L762.16 995.44L763.93 995.68L765.71 995.93L767.49 996.18L769.27 996.41L771.04 996.62L772.82 996.83L774.6 997.04L776.38 997.25L778.15 997.46L779.93 997.66L781.71 997.86L783.49 998.05L785.27 998.24L787.04 998.42L788.82 998.59L790.6 998.76L792.38 998.91L794.15 999.06L795.93 999.2L797.71 999.33L799.49 999.45L801.26 999.56L803.04 999.66L804.82 999.75L806.6 999.82L808.38 999.89L810.15 999.94L811.93 999.97L813.71 1000L815.49 1000.02L817.26 1000.02L819.04 1000.01L820.82 999.99L822.6 999.97L824.37 999.94L826.15 999.9L827.93 999.84L829.71 999.77L831.49 999.71L833.26 999.63L835.04 999.54L836.82 999.44L838.6 999.34L840.37 999.22L842.15 999.1L843.93 998.98L845.71 998.84L847.48 998.7L849.26 998.56L851.04 998.41L852.82 998.25L854.6 998.09L856.37 997.92L858.15 997.75L859.93 997.58L861.71 997.4L863.48 997.22L865.26 997.04L867.04 996.86L868.82 996.67L870.59 996.49L872.37 996.29L874.15 996.08L875.93 995.87L877.71 995.65L879.48 995.44L881.26 995.23L883.04 995.03L884.82 994.84L886.59 994.65L888.37 994.46L890.15 994.29L891.93 994.12L893.7 993.96L895.48 993.82L897.26 993.68L899.04 993.55L900.82 993.44L902.59 993.34L904.37 993.25L906.15 993.17L907.93 993.11L909.7 993.06L911.48 993.03L913.26 993.01L915.04 992.99L916.81 993L918.59 993.02L920.37 993.04L922.15 993.06L923.93 993.1L925.7 993.14L927.48 993.2L929.26 993.26L931.04 993.33L932.81 993.41L934.59 993.49L936.37 993.58L938.15 993.68L939.92 993.79L941.7 993.9L943.48 994.02L945.26 994.14L947.04 994.27L948.81 994.41L950.59 994.55L952.37 994.69L954.15 994.84L955.92 994.99L957.7 995.15L959.48 995.31L961.26 995.47L963.03 995.63L964.81 995.79L966.59 995.95L968.37 996.11L970.15 996.3L971.92 996.54L973.7 996.79L975.48 997.02L977.26 997.24L979.03 997.44L980.81 997.61L982.59 997.76L984.37 997.88L986.14 997.97L987.92 998.02L989.7 998.04" fill="none" stroke="#00ffff" stroke-width="2.4" stroke-linejoin="round" stroke-dasharray="9.3 4.4 3.7 4.2 3.7 4.4"/><path d="M131 32.2H201.6" stroke="#ff00ff" stroke-width="2.3"/><path d="M166.3 25.2L172.6 32.2L166.3 39.2L160 32.2Z" fill="#ff00ff"/><text x="207" y="42.1" font-family='"Liberation Serif", serif' font-size="30">25m<tspan font-size="17" dx="1.6" dy="-16.5">2</tspan><tspan dy="16.5"> - positive</tspan></text><path d="M131 75.9H201.6" stroke="#ff00ff" stroke-width="2.3" stroke-dasharray="9.5 10"/><path d="M166.3 68.9L172.6 75.9L166.3 82.9L160 75.9Z" fill="#ff00ff"/><text x="207" y="85.8" font-family='"Liberation Serif", serif' font-size="30">25m<tspan font-size="17" dx="1.6" dy="-16.5">2</tspan><tspan dy="16.5"> - negative</tspan></text><path d="M413.2 32.2H483.8" stroke="#00ffff" stroke-width="2.3"/><path d="M448.5 39.8L455.2 28.4L441.8 28.4Z" fill="#00ffff"/><text x="489.2" y="42.1" font-family='"Liberation Serif", serif' font-size="30">30m<tspan font-size="17" dx="1.6" dy="-16.5">2</tspan><tspan dy="16.5"> - positive</tspan></text><path d="M413.2 75.9H483.8" stroke="#00ffff" stroke-width="2.3" stroke-dasharray="9.5 10"/><path d="M448.5 83.5L455.2 72.1L441.8 72.1Z" fill="#00ffff"/><text x="489.2" y="85.8" font-family='"Liberation Serif", serif' font-size="30">30m<tspan font-size="17" dx="1.6" dy="-16.5">2</tspan><tspan dy="16.5"> - negative</tspan></text><path d="M139.4 323.6H209.4" stroke="#ff0000" stroke-width="2.3"/><rect x="169.9" y="319.1" width="9" height="9" fill="#ff0000"/><text x="216.4" y="333.4" font-family='"Liberation Serif", serif' font-size="30">10m<tspan font-size="17" dx="1.6" dy="-16.5">2</tspan><tspan dy="16.5"> - positive</tspan></text><path d="M139.4 367.5H209.4" stroke="#ff0000" stroke-width="2.3" stroke-dasharray="9.5 10"/><rect x="169.9" y="363" width="9" height="9" fill="#ff0000"/><text x="216.4" y="377.3" font-family='"Liberation Serif", serif' font-size="30">10m<tspan font-size="17" dx="1.6" dy="-16.5">2</tspan><tspan dy="16.5"> - negative</tspan></text><path d="M421.2 323.6H491.2" stroke="#00ff00" stroke-width="2.3"/><circle cx="456.2" cy="323.6" r="5.3" fill="#00ff00"/><text x="498.2" y="333.4" font-family='"Liberation Serif", serif' font-size="30">15m<tspan font-size="17" dx="1.6" dy="-16.5">2</tspan><tspan dy="16.5"> - positive</tspan></text><path d="M421.2 367.5H491.2" stroke="#00ff00" stroke-width="2.3" stroke-dasharray="9.5 10"/><circle cx="456.2" cy="367.5" r="5.3" fill="#00ff00"/><text x="498.2" y="377.3" font-family='"Liberation Serif", serif' font-size="30">15m<tspan font-size="17" dx="1.6" dy="-16.5">2</tspan><tspan dy="16.5"> - negative</tspan></text><path d="M702.5 323.6H772.5" stroke="#0000ff" stroke-width="2.3"/><path d="M737.5 316L744.2 327.4L730.8 327.4Z" fill="#0000ff"/><text x="779.5" y="333.4" font-family='"Liberation Serif", serif' font-size="30">20m<tspan font-size="17" dx="1.6" dy="-16.5">2</tspan><tspan dy="16.5"> - positive</tspan></text><path d="M702.5 367.5H772.5" stroke="#0000ff" stroke-width="2.3" stroke-dasharray="9.5 10"/><path d="M737.5 359.9L744.2 371.3L730.8 371.3Z" fill="#0000ff"/><text x="779.5" y="377.3" font-family='"Liberation Serif", serif' font-size="30">20m<tspan font-size="17" dx="1.6" dy="-16.5">2</tspan><tspan dy="16.5"> - negative</tspan></text><path d="M532.6 689.5H603.3" stroke="#ff0000" stroke-width="2"/><text x="618.5" y="700.3" font-family='"Liberation Serif", serif' font-size="30">10m<tspan font-size="17" dx="1.6" dy="-16.5">2</tspan><tspan dy="16.5"></tspan></text><path d="M532.6 734.5H603.3" stroke="#00ff00" stroke-width="2" stroke-dasharray="10.2 9.3"/><text x="618.5" y="745.3" font-family='"Liberation Serif", serif' font-size="30">15m<tspan font-size="17" dx="1.6" dy="-16.5">2</tspan><tspan dy="16.5"></tspan></text><path d="M532.6 779.5H596" stroke="#0000ff" stroke-width="2" stroke-dasharray="3.5 8.2"/><text x="618.5" y="790.3" font-family='"Liberation Serif", serif' font-size="30">20m<tspan font-size="17" dx="1.6" dy="-16.5">2</tspan><tspan dy="16.5"></tspan></text><path d="M532.6 823.9H603.3" stroke="#ff00ff" stroke-width="2" stroke-dasharray="12.3 4.4 3.7 4.4"/><text x="618.5" y="834.7" font-family='"Liberation Serif", serif' font-size="30">25m<tspan font-size="17" dx="1.6" dy="-16.5">2</tspan><tspan dy="16.5"></tspan></text><path d="M532.6 868.7H603.3" stroke="#00ffff" stroke-width="2" stroke-dasharray="9.3 4.4 3.7 4.2 3.7 4.4"/><text x="618.5" y="879.5" font-family='"Liberation Serif", serif' font-size="30">30m<tspan font-size="17" dx="1.6" dy="-16.5">2</tspan><tspan dy="16.5"></tspan></text><text transform="translate(36.1 302.9) rotate(-90)" font-family='"Liberation Serif", serif' font-size="31.8"><tspan font-style="italic">v</tspan> (m/s)</text><text transform="translate(28.2 902.5) rotate(-90)" font-family='"Liberation Serif", serif' font-size="31.8"><tspan font-style="italic">v</tspan> (m/s)</text><text x="530.5" y="553.6" font-family='"Liberation Serif", serif' font-size="31.8"><tspan font-style="italic">x</tspan> (m)</text><text x="566.6" y="1114.7" font-family='"Liberation Serif", serif' font-size="31.8"><tspan font-style="italic">t</tspan> (s)</text><text x="487.8" y="601" font-family='"Liberation Serif", serif' font-size="39.5">(<tspan font-weight="bold" font-size="37" dx="-0.6">a</tspan><tspan dx="-1.2">)</tspan></text><text x="484" y="1208.3" font-family='"Liberation Serif", serif' font-size="40">(<tspan font-weight="bold">b</tspan>)</text></svg></body></html>
